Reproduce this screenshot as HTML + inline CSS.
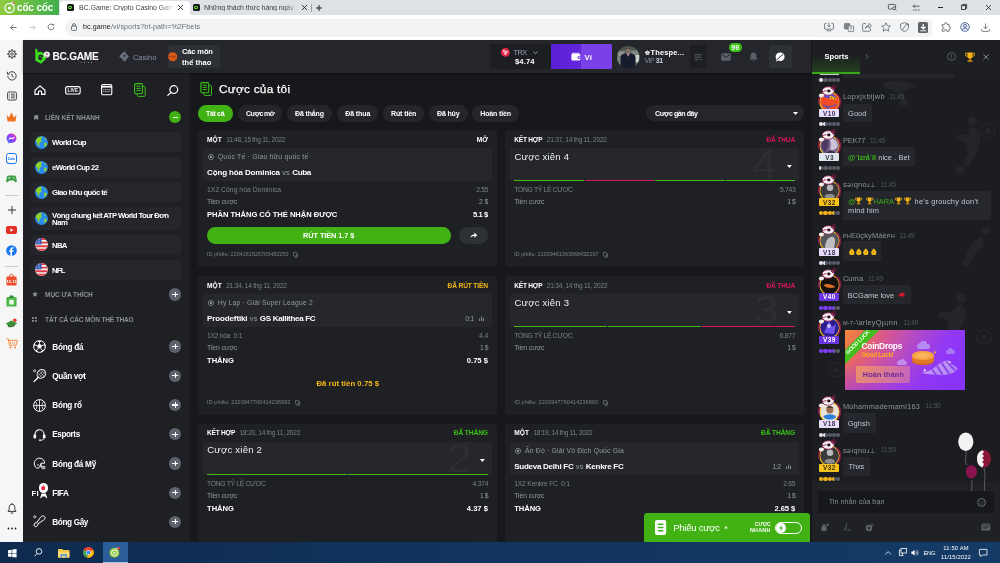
<!DOCTYPE html>
<html lang="vi">
<head>
<meta charset="utf-8">
<title>BC.Game</title>
<style>
*{box-sizing:border-box;margin:0;padding:0}
html,body{width:1000px;height:563px;overflow:hidden;background:#17181b}
body{position:relative;font-family:"Liberation Sans",sans-serif;color:#fff;font-size:8px;line-height:1}
.a{position:absolute}
.t{position:absolute;white-space:pre;line-height:1}
.b{font-weight:bold}
svg{position:absolute;overflow:visible}
/* browser chrome */
#tabbar{left:0;top:0;width:1000px;height:15px;background:#dee1e6}
#toolbar{left:0;top:15px;width:1000px;height:25px;background:#fff}
#ccside{left:0;top:40px;width:23px;height:502px;background:#f6f6f6}
#hdr{left:23px;top:40px;width:788px;height:33.4px;background:#24262b;box-shadow:0 1px 2px rgba(0,0,0,.35);z-index:3}
#sbar{left:23px;top:73px;width:167px;height:469px;background:#1e2024}
#main{left:190px;top:73px;width:622px;height:469px;background:#17181b;overflow:hidden}
#chat{left:812px;top:40px;width:188px;height:502px;background:#1b1d21;overflow:hidden}
#task{left:0;top:542px;width:1000px;height:21px;background:linear-gradient(90deg,#0e2a4e 0%,#11335c 40%,#143b66 100%)}
</style>
</head>
<body>
<div id="all" class="a" style="left:0;top:0;width:1000px;height:563px;will-change:transform">
<div id="tabbar" class="a">
<div class="a" style="left:0;top:0;width:59px;height:15px;background:linear-gradient(90deg,#8ecb3f 0%,#6abf45 45%,#3fae4e 100%)"></div>
<svg style="left:3px;top:1px" width="13" height="13" viewBox="0 0 13 13"><circle cx="6.5" cy="7" r="4.6" fill="none" stroke="#fff" stroke-width="1.2"/><circle cx="6.5" cy="7" r="1.6" fill="#fff"/><path d="M8 2.2 L11 0.8 M9 3.4 L11.8 3" stroke="#fff" stroke-width="1" fill="none"/><circle cx="10.8" cy="1.8" r="1.1" fill="#e9524a"/></svg>
<div class="t b" style="left:17px;top:3px;font-size:10px;color:#fff;letter-spacing:-0.15px">cốc cốc</div>
<div class="a" style="left:60px;top:1px;width:130px;height:14px;background:#fff;border-radius:4px 4px 0 0"></div>
<div class="a" style="left:66.5px;top:4px;width:7px;height:7px;background:#16181c;border-radius:1.5px"></div>
<div class="a" style="left:68.2px;top:5.6px;width:3.6px;height:3.8px;border:1px solid #5ce01d;border-radius:1px"></div>
<div class="t" style="left:79px;top:4.2px;font-size:7px;color:#3c4043;letter-spacing:-0.05px;width:94px;overflow:hidden">BC.Game: Crypto Casino Gam</div>
<div class="a" style="left:160px;top:2px;width:14px;height:12px;background:linear-gradient(90deg,rgba(255,255,255,0),#fff)"></div>
<svg style="left:177.5px;top:5px" width="5" height="5" viewBox="0 0 5 5"><path d="M0 0L5 5M5 0L0 5" stroke="#202124" stroke-width="0.9"/></svg>
<div class="a" style="left:192.5px;top:4px;width:7px;height:7px;background:#16181c;border-radius:1.5px"></div>
<div class="a" style="left:194.2px;top:5.6px;width:3.6px;height:3.8px;border:1px solid #5ce01d;border-radius:1px"></div>
<div class="t" style="left:204px;top:4.2px;font-size:7px;color:#3c4043;letter-spacing:-0.05px;width:94px;overflow:hidden">Những thách thức hàng ngày</div>
<div class="a" style="left:284px;top:2px;width:14px;height:12px;background:linear-gradient(90deg,rgba(222,225,230,0),#dee1e6)"></div>
<svg style="left:302px;top:5px" width="5" height="5" viewBox="0 0 5 5"><path d="M0 0L5 5M5 0L0 5" stroke="#202124" stroke-width="0.9"/></svg>
<div class="a" style="left:311px;top:3.5px;width:1px;height:8px;background:#9aa0a6"></div>
<svg style="left:316px;top:4.5px" width="6" height="6" viewBox="0 0 6 6"><path d="M3 0V6M0 3H6" stroke="#202124" stroke-width="1"/></svg>
<svg style="left:888px;top:3.5px" width="9" height="7" viewBox="0 0 9 7"><rect x="0.4" y="0.4" width="7.2" height="4.6" rx="0.8" fill="none" stroke="#3c4043" stroke-width="0.8"/><circle cx="6" cy="4.2" r="1.4" fill="#dee1e6" stroke="#3c4043" stroke-width="0.7"/><path d="M7 5.2L8.4 6.6" stroke="#3c4043" stroke-width="0.8"/></svg>
<svg style="left:912px;top:3.5px" width="8" height="7" viewBox="0 0 8 7"><path d="M1 2.2H7.5M1 2.2L2.6 0.6M1 2.2L2.6 3.8" stroke="#3c4043" stroke-width="0.8" fill="none"/><path d="M1 6H2.6M3.6 6H5.2M6.2 6H7.6" stroke="#3c4043" stroke-width="0.8"/></svg>
<div class="a" style="left:937.5px;top:6.8px;width:5px;height:1px;background:#202124"></div>
<svg style="left:961px;top:4px" width="6" height="6" viewBox="0 0 6 6"><rect x="0.4" y="1.4" width="4" height="4" fill="#dee1e6" stroke="#202124" stroke-width="0.8"/><path d="M1.6 1.4V0.4H5.6V4.4H4.4" fill="none" stroke="#202124" stroke-width="0.8"/></svg>
<svg style="left:985.5px;top:4.5px" width="5" height="5" viewBox="0 0 5 5"><path d="M0 0L5 5M5 0L0 5" stroke="#202124" stroke-width="0.8"/></svg>
</div>
<div id="toolbar" class="a">
<svg style="left:10px;top:9px" width="7" height="7" viewBox="0 0 7 7"><path d="M6.6 3.5H0.8M3.4 0.7L0.6 3.5L3.4 6.3" stroke="#5f6368" stroke-width="0.9" fill="none"/></svg>
<svg style="left:29px;top:9px" width="7" height="7" viewBox="0 0 7 7"><path d="M0.4 3.5H6.2M3.6 0.7L6.4 3.5L3.6 6.3" stroke="#c4c7cb" stroke-width="0.9" fill="none"/></svg>
<svg style="left:47px;top:8px" width="8" height="8" viewBox="0 0 8 8"><path d="M6.9 4A2.9 2.9 0 1 1 6 1.9" stroke="#5f6368" stroke-width="0.9" fill="none"/><path d="M7.2 0.6V2.6H5.2Z" fill="#5f6368"/></svg>
<div class="a" style="left:65px;top:3.5px;width:867px;height:18px;background:#f1f3f4;border-radius:9px 3px 3px 9px"></div>
<svg style="left:70.5px;top:8px" width="6" height="8" viewBox="0 0 6 8"><rect x="0.5" y="3.2" width="5" height="4.2" rx="0.8" fill="none" stroke="#5f6368" stroke-width="0.9"/><path d="M1.6 3.2V2A1.4 1.4 0 0 1 4.4 2V3.2" fill="none" stroke="#5f6368" stroke-width="0.9"/></svg>
<div class="t" style="left:83px;top:9px;font-size:7.1px;color:#202124;letter-spacing:0.101px;transform:matrix(1,0.0004,0,1,0,0.3);transform-origin:0 0"><span>bc.game</span><span style="color:#6a6f75">/vi/sports?bt-path=%2Fbets</span></div>
<svg style="left:824px;top:7px" width="10" height="10" viewBox="0 0 10 10"><path d="M2.6 1.4H1.2A0.6 0.6 0 0 0 0.6 2V6.6A0.6 0.6 0 0 0 1.2 7.2H8.8A0.6 0.6 0 0 0 9.4 6.6V2A0.6 0.6 0 0 0 8.8 1.4H7.4" fill="none" stroke="#5f6368" stroke-width="0.8"/><path d="M5 0.4V5M3.4 3.4L5 5L6.6 3.4M2.6 8.8H7.4" fill="none" stroke="#5f6368" stroke-width="0.8"/></svg>
<svg style="left:843.5px;top:7.5px" width="10" height="9" viewBox="0 0 10 9"><rect x="0.4" y="0.4" width="5.4" height="5.6" rx="0.6" fill="#80868b" stroke="#5f6368" stroke-width="0.6"/><rect x="4.2" y="3" width="5.4" height="5.6" rx="0.6" fill="#f1f3f4" stroke="#5f6368" stroke-width="0.7"/><path d="M5.6 4.8H8.2M6.9 4.2V4.8M6 7.4C7 6.8 7.6 5.8 7.8 4.8" stroke="#5f6368" stroke-width="0.5" fill="none"/></svg>
<svg style="left:862px;top:7px" width="10" height="10" viewBox="0 0 10 10"><path d="M4 1.6H1.6A1 1 0 0 0 0.6 2.6V8.2A1 1 0 0 0 1.6 9.2H7.6A1 1 0 0 0 8.6 8.2V6.4" fill="none" stroke="#5f6368" stroke-width="0.8"/><path d="M3.4 6.6C3.6 4.4 5 3.2 7 3.2V1.4L9.6 3.8L7 6.2V4.6C5.4 4.6 4.2 5.2 3.4 6.6Z" fill="none" stroke="#5f6368" stroke-width="0.8" stroke-linejoin="round"/></svg>
<svg style="left:880.5px;top:7px" width="10" height="10" viewBox="0 0 10 10"><path d="M5 0.8L6.3 3.6L9.4 4L7.1 6.1L7.7 9.2L5 7.7L2.3 9.2L2.9 6.1L0.6 4L3.7 3.6Z" fill="none" stroke="#5f6368" stroke-width="0.8" stroke-linejoin="round"/></svg>
<svg style="left:899.5px;top:7px" width="9" height="10" viewBox="0 0 9 10"><path d="M4.5 0.6L8.4 2V5C8.4 7.2 6.8 8.8 4.5 9.5C2.2 8.8 0.6 7.2 0.6 5V2Z" fill="none" stroke="#5f6368" stroke-width="0.8" stroke-linejoin="round"/><path d="M6.8 1.6L2.2 8.2" stroke="#5f6368" stroke-width="0.8"/><path d="M4.5 0.6L8.4 2V5L6.8 1.6Z" fill="#5f6368"/></svg>
<div class="a" style="left:917.5px;top:7px;width:10.5px;height:10.5px;background:#5f6368;border-radius:1.5px"></div>
<svg style="left:919.5px;top:8.5px" width="6.5" height="7.5" viewBox="0 0 6.5 7.5"><path d="M3.25 0V4.6M1 2.8L3.25 5L5.5 2.8" stroke="#fff" stroke-width="1.2" fill="none"/><path d="M0.2 6.8H6.3" stroke="#fff" stroke-width="0.9"/></svg>
<svg style="left:940.5px;top:7px" width="10" height="10" viewBox="0 0 10 10"><path d="M3.6 1.8A1.2 1.2 0 0 1 6 1.8V2.4H8V4.6H8.4A1.2 1.2 0 0 1 8.4 7H8V9.2H5.6V8.6A1.1 1.1 0 0 0 3.4 8.6V9.2H1.2V6.8H1.8A1.1 1.1 0 0 0 1.8 4.6H1.2V2.4H3.6Z" fill="none" stroke="#5f6368" stroke-width="0.85" stroke-linejoin="round"/></svg>
<svg style="left:960px;top:7px" width="10" height="10" viewBox="0 0 10 10"><circle cx="5" cy="5" r="4.4" fill="#e3e8f5" stroke="#4a5a8c" stroke-width="0.8"/><circle cx="5" cy="3.9" r="1.5" fill="none" stroke="#4a5a8c" stroke-width="0.8"/><path d="M2.2 8.2C2.6 6.8 3.6 6.3 5 6.3S7.4 6.8 7.8 8.2" fill="none" stroke="#4a5a8c" stroke-width="0.8"/></svg>
<svg style="left:980.5px;top:7.5px" width="9" height="9" viewBox="0 0 9 9"><path d="M4.5 0.4V5.6M2.4 3.6L4.5 5.8L6.6 3.6" stroke="#5f6368" stroke-width="0.8" fill="none"/><path d="M0.6 6V7.6A0.8 0.8 0 0 0 1.4 8.4H7.6A0.8 0.8 0 0 0 8.4 7.6V6" stroke="#5f6368" stroke-width="0.8" fill="none"/></svg>
</div>
<div id="ccside" class="a">
<svg style="left:6.5px;top:9px" width="10" height="10" viewBox="0 0 10 10"><circle cx="5" cy="5" r="3.3" fill="none" stroke="#333" stroke-width="0.9"/><circle cx="5" cy="5" r="1.3" fill="none" stroke="#333" stroke-width="0.8"/><path d="M5 0.3V1.7M5 8.3V9.7M0.3 5H1.7M8.3 5H9.7M1.7 1.7L2.7 2.7M7.3 7.3L8.3 8.3M1.7 8.3L2.7 7.3M7.3 2.7L8.3 1.7" stroke="#333" stroke-width="1.3"/></svg>
<svg style="left:6.5px;top:30.5px" width="10" height="10" viewBox="0 0 10 10"><path d="M1.6 2.4A4.2 4.2 0 1 1 0.8 5" fill="none" stroke="#333" stroke-width="0.9"/><path d="M0.4 0.8V3.2H2.8" fill="none" stroke="#333" stroke-width="0.9"/><path d="M5 2.6V5.2L6.8 6.2" fill="none" stroke="#333" stroke-width="0.9"/></svg>
<svg style="left:6.5px;top:51.3px" width="10" height="10" viewBox="0 0 10 10"><rect x="0.6" y="1" width="8.8" height="8" rx="1.2" fill="none" stroke="#333" stroke-width="0.9"/><path d="M2.2 3.2H3M4 3.2H7.8M2.2 5H3M4 5H7.8M2.2 6.8H3M4 6.8H7.8" stroke="#333" stroke-width="0.9"/></svg>
<svg style="left:6px;top:72.3px" width="11" height="10" viewBox="0 0 11 10"><path d="M0.6 3L3 5.4L5.5 0.6L8 5.4L10.4 3L9.4 9.4H1.6Z" fill="#f26f1c"/></svg>
<svg style="left:6px;top:92.80000000000001px" width="11" height="11" viewBox="0 0 11 11"><defs><linearGradient id="msg" x1="0" y1="1" x2="1" y2="0"><stop offset="0" stop-color="#2c7cf6"/><stop offset="0.6" stop-color="#a334fa"/><stop offset="1" stop-color="#ff5c87"/></linearGradient></defs><path d="M5.5 0.5C2.7 0.5 0.5 2.6 0.5 5.3C0.5 6.8 1.2 8.1 2.3 9V10.6L3.9 9.7C4.4 9.9 4.9 10 5.5 10C8.3 10 10.5 7.9 10.5 5.3S8.3 0.5 5.5 0.5Z" fill="url(#msg)"/><path d="M2.4 6.5L4.4 4.1L5.8 5.3L7.4 4.1L8.6 4.2L6.6 6.6L5.2 5.4L3.6 6.6Z" fill="#fff"/></svg>
<svg style="left:6px;top:113.30000000000001px" width="11" height="11" viewBox="0 0 11 11"><rect x="0.5" y="0.5" width="10" height="10" rx="2.2" fill="#fff" stroke="#1a73e8" stroke-width="1"/><path d="M1 8.2C2 9.6 3 10.2 4.5 10.4H1.6Z" fill="#1a73e8"/><text x="5.5" y="6.6" font-size="3.6" font-weight="bold" font-family="Liberation Sans,sans-serif" fill="#1a73e8" text-anchor="middle">Zalo</text></svg>
<svg style="left:6px;top:135.2px" width="11" height="8" viewBox="0 0 11 8"><path d="M2.6 0.6H8.4C9.4 0.6 10 1.4 10.2 2.6L10.8 6C11 7.4 9.6 7.8 8.8 6.8L7.8 5.4H3.2L2.2 6.8C1.4 7.8 0 7.4 0.2 6L0.8 2.6C1 1.4 1.6 0.6 2.6 0.6Z" fill="#3c9d47"/><path d="M2.4 2.9H4.2M3.3 2V3.8" stroke="#f4f4f4" stroke-width="0.7"/><circle cx="7.4" cy="2.4" r="0.5" fill="#f4f4f4"/><circle cx="8.4" cy="3.4" r="0.5" fill="#f4f4f4"/></svg>
<div class="a" style="left:5px;top:155px;width:13px;height:1px;background:#c9c9c9"></div>
<svg style="left:7.5px;top:165.6px" width="8" height="8" viewBox="0 0 8 8"><path d="M4 0V8M0 4H8" stroke="#333" stroke-width="1"/></svg>
<svg style="left:6px;top:186px" width="11" height="8" viewBox="0 0 11 8"><rect x="0" y="0" width="11" height="8" rx="2" fill="#e52d27"/><path d="M4.4 2.2L7.4 4L4.4 5.8Z" fill="#fff"/></svg>
<svg style="left:6px;top:205.3px" width="11" height="11" viewBox="0 0 11 11"><circle cx="5.5" cy="5.5" r="5.3" fill="#1877f2"/><path d="M6 10.7V6.8H7.3L7.5 5.3H6V4.4C6 3.9 6.2 3.6 6.8 3.6H7.6V2.3C7.4 2.3 7 2.2 6.4 2.2C5.2 2.2 4.4 2.9 4.4 4.2V5.3H3.2V6.8H4.4V10.7Z" fill="#fff"/></svg>
<div class="a" style="left:5px;top:226px;width:13px;height:1px;background:#c9c9c9"></div>
<svg style="left:6px;top:234px" width="11" height="12" viewBox="0 0 11 12"><rect x="0.4" y="2.6" width="10.2" height="9" rx="1" fill="#ee4d2d"/><path d="M3.4 3V2.4A2.1 2.1 0 0 1 7.6 2.4V3" fill="none" stroke="#ee4d2d" stroke-width="0.9"/><text x="5.5" y="9.3" font-size="4" font-weight="bold" font-family="Liberation Sans,sans-serif" fill="#fff" text-anchor="middle">15.11</text></svg>
<svg style="left:6px;top:255px" width="11" height="12" viewBox="0 0 11 12"><rect x="0.4" y="2" width="10.2" height="9.6" rx="1.2" fill="#4cb648"/><rect x="3.4" y="0.6" width="4.2" height="2.4" rx="0.8" fill="#2f8f35"/><rect x="3.2" y="4.8" width="4.6" height="4.8" rx="0.5" fill="#e9f8e6"/></svg>
<svg style="left:5px;top:277.5px" width="13" height="10" viewBox="0 0 13 10"><path d="M0.6 5.8L6.2 2.4L12.4 5.2L7 8.8Z" fill="#3d8f3a"/><path d="M2.6 6.6V8.2C4 9.6 8.4 9.6 10 7.6V6.2L7 8.4Z" fill="#2c6d2b"/><circle cx="9.8" cy="2.2" r="1.8" fill="#e23a2e"/></svg>
<svg style="left:5.5px;top:297.5px" width="12" height="11" viewBox="0 0 12 11"><path d="M0.4 0.8H2.2L3 2.4H11.4L10.2 7.2H3.6L2.2 0.8" fill="none" stroke="#f58232" stroke-width="0.9"/><path d="M4.6 3.6V6M6.6 3.6V6M8.6 3.6V6" stroke="#f58232" stroke-width="0.7"/><circle cx="4.4" cy="9.4" r="1" fill="#f58232"/><circle cx="9" cy="9.4" r="1" fill="#f58232"/></svg>
<svg style="left:6.5px;top:463.1px" width="10" height="11" viewBox="0 0 10 11"><path d="M5 1.2C3.2 1.2 2.2 2.6 2.2 4.4V6.8L1 8.4H9L7.8 6.8V4.4C7.8 2.6 6.8 1.2 5 1.2Z" fill="none" stroke="#222" stroke-width="0.9" stroke-linejoin="round"/><path d="M4 9.4A1 1 0 0 0 6 9.4" fill="none" stroke="#222" stroke-width="0.9"/><path d="M5 0.2V1.2" stroke="#222" stroke-width="0.9"/></svg>
<svg style="left:6.5px;top:487.20000000000005px" width="10" height="3" viewBox="0 0 10 3"><circle cx="1.5" cy="1.5" r="0.9" fill="#222"/><circle cx="5" cy="1.5" r="0.9" fill="#222"/><circle cx="8.5" cy="1.5" r="0.9" fill="#222"/></svg>
</div>
<div id="hdr" class="a">
<svg style="left:11.6px;top:8.2px" width="16" height="17" viewBox="0 0 16 17"><path d="M0.3 0.4L2.6 1.6V4.6C3.6 3.8 5 3.5 6.4 3.9L10.6 6.4V11.6L6 15.8L0.3 12.4Z" fill="#3ddc1f"/><path d="M3.4 7.4L5.8 6.4L8 7.6V10.4L5.6 12.4L3.4 11.2Z" fill="#24262b"/><path d="M4.6 8.6H6" stroke="#3ddc1f" stroke-width="0.8"/><path d="M6.6 9.4L9.2 8.2L10.8 9.4L9.4 11.6L7.2 11Z" fill="#3ddc1f"/><circle cx="11.8" cy="6.6" r="3.1" fill="#f4f1f1"/><path d="M10.6 5.2L12 4.6L13.2 5.6L12.8 7L11.2 7.2Z" fill="#b9878e"/><path d="M10 8.4L11.6 9.2L13.4 8.6" stroke="#7d4650" stroke-width="0.5" fill="none"/></svg>
<div class="t" style="left:29px;top:12px;font-size:10.20px;color:#fff;transform:matrix(1,0.0004,0,1,0.40,0.31);transform-origin:0 0;letter-spacing:-0.272px;font-weight:bold;">BC.GAME</div>
<div class="a" style="left:54.7px;top:20.5px;width:1.4px;height:1.4px;border-radius:50%;background:#c4163a"></div>
<div class="a" style="left:58.3px;top:22.1px;width:1.0px;height:1.0px;border-radius:50%;background:#9d9d9d"></div>
<div class="a" style="left:61.3px;top:22.1px;width:1.0px;height:1.0px;border-radius:50%;background:#c9c9c9"></div>
<div class="a" style="left:64.5px;top:22.1px;width:1.0px;height:1.0px;border-radius:50%;background:#9d9d9d"></div>
<div class="a" style="left:67.5px;top:22.1px;width:1.0px;height:1.0px;border-radius:50%;background:#d8d8d8"></div>
<div class="a" style="left:71.9px;top:20.5px;width:1.4px;height:1.4px;border-radius:50%;background:#c4163a"></div>
<svg style="left:96.0px;top:11.4px" width="10" height="11" viewBox="0 0 10 11"><path d="M5.2 0.4L9.4 5.6L5.6 10.6L0.6 5.2Z" fill="#6b7280" stroke="#6b7280" stroke-width="0.6" stroke-linejoin="round"/><circle cx="5.4" cy="4.8" r="1.1" fill="#24262b"/><path d="M3.4 7.2L5.8 8.4" stroke="#4d525c" stroke-width="0.6"/></svg>
<div class="t" style="left:109px;top:13px;font-size:7.60px;color:#8690a3;transform:matrix(1,0.0004,0,1,0.90,0.51);transform-origin:0 0;letter-spacing:-0.022px;">Casino</div>
<div class="a" style="left:145.2px;top:5.2px;width:52px;height:23px;background:#2d3035;border-radius:1.5px"></div>
<svg style="left:145.1px;top:12.1px" width="9.4" height="9.4" viewBox="0 0 10 10"><circle cx="5" cy="5" r="4.8" fill="#e9631a"/><path d="M5 0.2V9.8M0.2 5H9.8M1.6 1.6C3.4 3.4 3.4 6.6 1.6 8.4M8.4 1.6C6.6 3.4 6.6 6.6 8.4 8.4" stroke="#8b3208" stroke-width="0.55" fill="none"/></svg>
<div class="t" style="left:159px;top:8px;font-size:7.50px;color:#fff;transform:matrix(1,0.0004,0,1,0.00,0.18);transform-origin:0 0;letter-spacing:-0.125px;font-weight:bold;">Các môn</div>
<div class="t" style="left:159px;top:19px;font-size:7.50px;color:#fff;transform:matrix(1,0.0004,0,1,0.00,0.08);transform-origin:0 0;letter-spacing:0.029px;font-weight:bold;">thể thao</div>
<div class="a" style="left:467.0px;top:4.2px;width:61px;height:25px;background:#1c1e22;border-radius:1.5px 0 0 1.5px"></div>
<svg style="left:477.5px;top:8.2px" width="8.8" height="8.8" viewBox="0 0 10 10"><circle cx="5" cy="5" r="5" fill="#e5284a"/><path d="M2.4 2.8L7.4 4L5 7.8Z" fill="none" stroke="#fff" stroke-width="0.8" stroke-linejoin="round"/><path d="M2.4 2.8L5.4 4.8L5 7.8M5.4 4.8L7.4 4" fill="none" stroke="#fff" stroke-width="0.6"/></svg>
<div class="t" style="left:490px;top:9px;font-size:7.40px;color:#98a2b6;transform:matrix(1,0.0004,0,1,0.40,0.35);transform-origin:0 0;letter-spacing:-0.451px;">TRX</div>
<svg style="left:510.0px;top:11.2px" width="5" height="3.4" viewBox="0 0 5 3.4"><path d="M0.4 0.5L2.5 2.7L4.6 0.5" stroke="#98a2b6" stroke-width="0.9" fill="none"/></svg>
<div class="t" style="left:492px;top:18px;font-size:7.60px;color:#fff;transform:matrix(1,0.0004,0,1,0.00,0.41);transform-origin:0 0;letter-spacing:0.144px;font-weight:bold;">$4.74</div>
<div class="a" style="left:527.8px;top:4.2px;width:61px;height:25px;background:linear-gradient(90deg,#5a1fd6 0%,#6426dc 49%,#7a41e8 50%,#7b40ea 100%);border-radius:0 1.5px 1.5px 0"></div>
<svg style="left:547.8px;top:12.2px" width="10" height="9" viewBox="0 0 10 9"><path d="M1.4 0.8H7.6C8.2 0.8 8.6 1.2 8.6 1.8V2.4H1.4A0.8 0.8 0 0 1 1.4 0.8Z" fill="#d9c8ff"/><rect x="0.4" y="2" width="9" height="6.6" rx="1.3" fill="#fff"/><circle cx="8.2" cy="5.3" r="1.6" fill="#6e33e0"/><circle cx="8.2" cy="5.3" r="0.8" fill="#fff"/></svg>
<div class="t" style="left:561px;top:13px;font-size:7.80px;color:#fff;transform:matrix(1,0.0004,0,1,0.40,0.58);transform-origin:0 0;letter-spacing:0.039px;font-weight:bold;">Ví</div>
<svg style="left:594.1px;top:5.6px" width="22.6" height="22.2" viewBox="0 0 22.6 22.2"><defs><clipPath id="avc"><ellipse cx="11.3" cy="11.1" rx="11.3" ry="11.1"/></clipPath><filter id="avb" x="-10%" y="-10%" width="120%" height="120%"><feGaussianBlur stdDeviation="0.45"/></filter></defs><g clip-path="url(#avc)"><g filter="url(#avb)"><rect width="22.6" height="22.2" fill="#5f6a60"/><rect x="0" y="0" width="22.6" height="4.6" fill="#4c554e"/><rect x="1" y="5.4" width="6.4" height="5" fill="#8a9288"/><rect x="14.4" y="4.6" width="7" height="4.6" fill="#7f8a80"/><rect x="18.4" y="9" width="4.2" height="7.4" fill="#c9d0cc"/><rect x="0" y="11" width="3.6" height="8" fill="#7c857e"/><path d="M3.6 22.2V11.4C3.6 8.6 6.6 7.6 8.6 7.2H13.6C15.8 7.6 18.4 8.8 18.4 11.6V22.2Z" fill="#191f2d"/><path d="M9.4 7.2L11.2 10.6L13 7.2Z" fill="#d9dce0"/><path d="M10.8 8L11.2 11.6L11.8 8Z" fill="#a3303a"/><ellipse cx="11.1" cy="3.9" rx="2.2" ry="2.8" fill="#86706a"/><path d="M8.9 3.2C9 0.9 13.2 0.9 13.3 3.2C12.4 2.2 9.8 2.2 8.9 3.2Z" fill="#3a2d26"/><rect x="10" y="6" width="2.2" height="1.6" fill="#7b665f"/></g></g></svg>
<div class="t" style="left:621px;top:9px;font-size:7.40px;color:#fff;transform:matrix(1,0.0004,0,1,0.40,0.15);transform-origin:0 0;letter-spacing:0.190px;font-weight:bold;"><span style="font-family:'DejaVu Sans',sans-serif;font-size:6.6px">♚</span>Thespe...</div>
<div class="t" style="left:621px;top:17px;font-size:7.00px;color:#7f8796;transform:matrix(1,0.0004,0,1,0.40,0.21);transform-origin:0 0;letter-spacing:-0.448px;">VIP <span style="color:#c9cfdb;font-weight:bold">31</span></div>
<div class="a" style="left:667.0px;top:5.4px;width:16px;height:22.6px;background:#1c1e22;border-radius:1.5px"></div>
<svg style="left:671.0px;top:13.6px" width="8" height="7" viewBox="0 0 8 7"><path d="M0.4 0.8H7.6M0.4 3.2H7.6M0.4 5.6H4.6" stroke="#5d626c" stroke-width="1"/><path d="M6 5.6H7.6" stroke="#5d626c" stroke-width="1"/></svg>
<svg style="left:698.0px;top:13.0px" width="10" height="8" viewBox="0 0 10 8"><rect x="0.2" y="0.2" width="9.6" height="7.6" rx="1.2" fill="#5a5f69"/><path d="M0.8 1.4L5 4.4L9.2 1.4" stroke="#24262b" stroke-width="0.9" fill="none"/></svg>
<div class="a" style="left:705.6px;top:2.9px;width:13.6px;height:9.4px;border-radius:4.7px;background:#3bc117"></div>
<div class="t" style="left:708px;top:4px;font-size:7.00px;color:#fff;transform:matrix(1,0.0004,0,1,0.30,0.21);transform-origin:0 0;letter-spacing:0.107px;font-weight:bold;">99</div>
<svg style="left:725.6px;top:12.0px" width="9" height="10" viewBox="0 0 9 10"><path d="M4.5 0.4C2.6 0.4 1.5 1.8 1.5 3.6V6L0.4 7.6H8.6L7.5 6V3.6C7.5 1.8 6.4 0.4 4.5 0.4Z" fill="#5a5f69"/><path d="M3.5 8.4A1 1 0 0 0 5.5 8.4Z" fill="#5a5f69"/></svg>
<div class="a" style="left:745.6px;top:5.4px;width:23.4px;height:22.6px;background:#2d3035;border-radius:1.5px"></div>
<svg style="left:752.2px;top:11.8px" width="10" height="10" viewBox="0 0 10 10"><path d="M5.2 0.6C2.6 0.6 0.6 2.4 0.6 4.8C0.6 5.8 1 6.8 1.6 7.4L1 9.6L3.4 8.6C4 8.8 4.6 9 5.2 9C7.8 9 9.6 7.2 9.6 4.8S7.8 0.6 5.2 0.6Z" fill="#fff"/><path d="M2 7.6L8.2 2" stroke="#2d3035" stroke-width="1"/></svg>
</div>
<div id="sbar" class="a">
<svg style="left:10.50px;top:12.20px" width="12" height="10.2" viewBox="0 0 12 10.2"><path d="M1 5.2L6 0.9L11 5.2V9.4H7.6V7.4A1.6 1.6 0 0 0 4.4 7.4V9.4H1Z" fill="none" stroke="#fff" stroke-width="1.2" stroke-linejoin="round"/></svg>
<svg style="left:42.00px;top:13.00px" width="15.8" height="8.6" viewBox="0 0 15.8 8.6"><rect x="0.6" y="0.6" width="14.6" height="7.4" rx="2" fill="none" stroke="#fff" stroke-width="1.1"/><text x="7.9" y="6.2" font-size="4.6" font-weight="bold" font-family="Liberation Sans,sans-serif" fill="#fff" text-anchor="middle" letter-spacing="0.1">LIVE</text></svg>
<svg style="left:77.60px;top:11.40px" width="11.4" height="11.4" viewBox="0 0 11.4 11.4"><rect x="0.6" y="0.6" width="10.2" height="10.2" rx="1.4" fill="none" stroke="#fff" stroke-width="1.1"/><path d="M0.6 2H10.8V3.6H0.6Z" fill="#fff"/><path d="M2.4 5.6H3.4M4.4 5.6H5.4M6.4 5.6H7.4M8.4 5.6H9.2M2.4 7.6H3.4M4.4 7.6H5.4M6.4 7.6H7.4M8.4 7.6H9.2" stroke="#fff" stroke-width="0.9"/></svg>
<svg style="left:110.80px;top:10.20px" width="11.8" height="14" viewBox="0 0 11.8 14"><path d="M8.8 3.6H10.2A1 1 0 0 1 11.2 4.6V12.4A1 1 0 0 1 10.2 13.4H4.4A1 1 0 0 1 3.4 12.4V11" fill="none" stroke="#3bc117" stroke-width="1"/><rect x="0.6" y="0.6" width="7.8" height="10.2" rx="1.2" fill="none" stroke="#3bc117" stroke-width="1.1"/><path d="M2.4 3.2H6.6M2.4 5.4H6.6M2.4 7.6H6.6" stroke="#3bc117" stroke-width="1"/></svg>
<svg style="left:144.00px;top:11.90px" width="11.6" height="11" viewBox="0 0 11.6 11"><circle cx="6.8" cy="4.6" r="3.9" fill="none" stroke="#fff" stroke-width="1.2"/><path d="M4 7.4L0.8 10.4" stroke="#fff" stroke-width="1.3" stroke-linecap="round"/></svg>
<svg style="left:10.50px;top:42.00px" width="4.4" height="5.2" viewBox="0 0 4.4 5.2"><path d="M0.2 0.2H4.2V5L2.2 3.8L0.2 5Z" fill="#8d9096"/></svg>
<div class="t" style="left:21px;top:41px;font-size:6.50px;color:#8d9096;transform:matrix(1,0.0004,0,1,0.90,0.84);transform-origin:0 0;letter-spacing:-0.006px;font-weight:bold;">LIÊN KẾT NHANH</div>
<div class="a" style="left:145.7px;top:37.9px;width:12.6px;height:12.6px;border-radius:50%;background:#41b114"></div>
<div class="a" style="left:149.5px;top:43.6px;width:5px;height:1.2px;background:#e8ffe0"></div>
<div class="a" style="left:8.2px;top:58.8px;width:150px;height:20.5px;background:#24262b;border-radius:2px"></div>
<svg style="left:12.10px;top:62.55px" width="13" height="13" viewBox="0 0 13 13"><circle cx="6.5" cy="6.5" r="6.4" fill="#2b8cf0"/><path d="M2.6 2C3.8 0.9 5.6 0.5 6.8 1C7.2 1.9 6.2 2.4 6 3.2C5.8 4.1 6.8 4.5 6.4 5.4C6 6.2 5 6 4.5 6.8C4.1 7.5 4.8 8.4 4.4 9.4C4 10.1 3.4 10 3 9.4C2.5 8.5 2.9 7.7 2.4 6.9C1.9 6.1 1 6.1 0.8 5.1C0.6 3.8 1.6 2.8 2.6 2Z" fill="#8fd321"/><path d="M9.6 6.6C10.5 6.4 11.4 7 11.8 7.9C11.6 9.1 10.8 10.3 9.8 11C9.1 10.5 9.1 9.7 9.2 9C9.4 8.1 8.9 7 9.6 6.6Z" fill="#8fd321"/><path d="M9.6 1.6C10.5 2 11.3 2.8 11.8 3.8C11.1 4 10.5 3.6 10.2 3.1C9.9 2.6 9.4 2.2 9.6 1.6Z" fill="#8fd321"/></svg>
<div class="t" style="left:29px;top:65px;font-size:7.80px;color:#fff;transform:matrix(1,0.0004,0,1,0.00,0.93);transform-origin:0 0;letter-spacing:-0.581px;font-weight:bold;">World Cup</div>
<div class="a" style="left:8.2px;top:84.0px;width:150px;height:20.5px;background:#24262b;border-radius:2px"></div>
<svg style="left:12.10px;top:87.75px" width="13" height="13" viewBox="0 0 13 13"><circle cx="6.5" cy="6.5" r="6.4" fill="#2b8cf0"/><path d="M2.6 2C3.8 0.9 5.6 0.5 6.8 1C7.2 1.9 6.2 2.4 6 3.2C5.8 4.1 6.8 4.5 6.4 5.4C6 6.2 5 6 4.5 6.8C4.1 7.5 4.8 8.4 4.4 9.4C4 10.1 3.4 10 3 9.4C2.5 8.5 2.9 7.7 2.4 6.9C1.9 6.1 1 6.1 0.8 5.1C0.6 3.8 1.6 2.8 2.6 2Z" fill="#8fd321"/><path d="M9.6 6.6C10.5 6.4 11.4 7 11.8 7.9C11.6 9.1 10.8 10.3 9.8 11C9.1 10.5 9.1 9.7 9.2 9C9.4 8.1 8.9 7 9.6 6.6Z" fill="#8fd321"/><path d="M9.6 1.6C10.5 2 11.3 2.8 11.8 3.8C11.1 4 10.5 3.6 10.2 3.1C9.9 2.6 9.4 2.2 9.6 1.6Z" fill="#8fd321"/></svg>
<div class="t" style="left:29px;top:91px;font-size:7.80px;color:#fff;transform:matrix(1,0.0004,0,1,0.00,0.13);transform-origin:0 0;letter-spacing:-0.609px;font-weight:bold;">eWorld Cup 22</div>
<div class="a" style="left:8.2px;top:108.8px;width:150px;height:20.5px;background:#24262b;border-radius:2px"></div>
<svg style="left:12.10px;top:112.55px" width="13" height="13" viewBox="0 0 13 13"><circle cx="6.5" cy="6.5" r="6.4" fill="#2b8cf0"/><path d="M2.6 2C3.8 0.9 5.6 0.5 6.8 1C7.2 1.9 6.2 2.4 6 3.2C5.8 4.1 6.8 4.5 6.4 5.4C6 6.2 5 6 4.5 6.8C4.1 7.5 4.8 8.4 4.4 9.4C4 10.1 3.4 10 3 9.4C2.5 8.5 2.9 7.7 2.4 6.9C1.9 6.1 1 6.1 0.8 5.1C0.6 3.8 1.6 2.8 2.6 2Z" fill="#8fd321"/><path d="M9.6 6.6C10.5 6.4 11.4 7 11.8 7.9C11.6 9.1 10.8 10.3 9.8 11C9.1 10.5 9.1 9.7 9.2 9C9.4 8.1 8.9 7 9.6 6.6Z" fill="#8fd321"/><path d="M9.6 1.6C10.5 2 11.3 2.8 11.8 3.8C11.1 4 10.5 3.6 10.2 3.1C9.9 2.6 9.4 2.2 9.6 1.6Z" fill="#8fd321"/></svg>
<div class="t" style="left:29px;top:115px;font-size:7.80px;color:#fff;transform:matrix(1,0.0004,0,1,0.00,0.93);transform-origin:0 0;letter-spacing:-0.598px;font-weight:bold;">Giao hữu quốc tế</div>
<div class="a" style="left:8.2px;top:133.9px;width:150px;height:23.2px;background:#24262b;border-radius:2px"></div>
<svg style="left:12.10px;top:139.00px" width="13" height="13" viewBox="0 0 13 13"><circle cx="6.5" cy="6.5" r="6.4" fill="#2b8cf0"/><path d="M2.6 2C3.8 0.9 5.6 0.5 6.8 1C7.2 1.9 6.2 2.4 6 3.2C5.8 4.1 6.8 4.5 6.4 5.4C6 6.2 5 6 4.5 6.8C4.1 7.5 4.8 8.4 4.4 9.4C4 10.1 3.4 10 3 9.4C2.5 8.5 2.9 7.7 2.4 6.9C1.9 6.1 1 6.1 0.8 5.1C0.6 3.8 1.6 2.8 2.6 2Z" fill="#8fd321"/><path d="M9.6 6.6C10.5 6.4 11.4 7 11.8 7.9C11.6 9.1 10.8 10.3 9.8 11C9.1 10.5 9.1 9.7 9.2 9C9.4 8.1 8.9 7 9.6 6.6Z" fill="#8fd321"/><path d="M9.6 1.6C10.5 2 11.3 2.8 11.8 3.8C11.1 4 10.5 3.6 10.2 3.1C9.9 2.6 9.4 2.2 9.6 1.6Z" fill="#8fd321"/></svg>
<div class="a" style="left:8.2px;top:161.6px;width:150px;height:20.5px;background:#24262b;border-radius:2px"></div>
<svg style="left:12.10px;top:165.35px" width="13" height="13" viewBox="0 0 13 13"><clipPath id="fc4"><circle cx="6.5" cy="6.5" r="6.4"/></clipPath><g clip-path="url(#fc4)"><rect width="13" height="13" fill="#f5f5f5"/><path d="M0 1H13M0 4.6H13M0 8.2H13M0 11.8H13" stroke="#e33b44" stroke-width="1.9"/><rect width="6.5" height="6.4" fill="#2f5bb7"/><path d="M1.4 1.6H5M1.4 3.2H5M1.4 4.8H5" stroke="#dfe6f5" stroke-width="0.6" stroke-dasharray="0.7 0.7"/></g></svg>
<div class="t" style="left:29px;top:168px;font-size:7.80px;color:#fff;transform:matrix(1,0.0004,0,1,0.00,0.73);transform-origin:0 0;letter-spacing:-0.731px;font-weight:bold;">NBA</div>
<div class="a" style="left:8.2px;top:186.5px;width:150px;height:20.5px;background:#24262b;border-radius:2px"></div>
<svg style="left:12.10px;top:190.25px" width="13" height="13" viewBox="0 0 13 13"><clipPath id="fc5"><circle cx="6.5" cy="6.5" r="6.4"/></clipPath><g clip-path="url(#fc5)"><rect width="13" height="13" fill="#f5f5f5"/><path d="M0 1H13M0 4.6H13M0 8.2H13M0 11.8H13" stroke="#e33b44" stroke-width="1.9"/><rect width="6.5" height="6.4" fill="#2f5bb7"/><path d="M1.4 1.6H5M1.4 3.2H5M1.4 4.8H5" stroke="#dfe6f5" stroke-width="0.6" stroke-dasharray="0.7 0.7"/></g></svg>
<div class="t" style="left:29px;top:193px;font-size:7.80px;color:#fff;transform:matrix(1,0.0004,0,1,0.00,0.63);transform-origin:0 0;letter-spacing:-0.789px;font-weight:bold;">NFL</div>
<div class="t" style="left:29px;top:138px;font-size:7.80px;color:#fff;transform:matrix(1,0.0004,0,1,0.00,0.68);transform-origin:0 0;letter-spacing:-0.604px;font-weight:bold;">Vòng chung kết ATP World Tour Đơn</div>
<div class="t" style="left:29px;top:145px;font-size:7.80px;color:#fff;transform:matrix(1,0.0004,0,1,0.00,0.98);transform-origin:0 0;letter-spacing:-0.466px;font-weight:bold;">Nam</div>
<svg style="left:9.20px;top:218.40px" width="6" height="6" viewBox="0 0 10 10"><path d="M5 0.4L6.4 3.6L9.8 3.9L7.2 6.2L8 9.6L5 7.8L2 9.6L2.8 6.2L0.2 3.9L3.6 3.6Z" fill="#8d9096"/></svg>
<div class="t" style="left:22px;top:219px;font-size:6.50px;color:#8d9096;transform:matrix(1,0.0004,0,1,0.10,0.04);transform-origin:0 0;letter-spacing:-0.043px;font-weight:bold;">MỤC ƯA THÍCH</div>
<div class="a" style="left:145.9px;top:215.3px;width:12.4px;height:12.4px;border-radius:50%;background:#5d626c"></div><div class="a" style="left:149.4px;top:220.9px;width:5.4px;height:1.2px;background:#fff"></div><div class="a" style="left:151.5px;top:218.8px;width:1.2px;height:5.4px;background:#fff"></div>
<svg style="left:9.40px;top:244.20px" width="4.8" height="4.8" viewBox="0 0 4.8 4.8"><rect x="0" y="0" width="1.9" height="1.9" rx="0.4" fill="#8d9096"/><rect x="2.9" y="0" width="1.9" height="1.9" rx="0.4" fill="#8d9096"/><rect x="0" y="2.9" width="1.9" height="1.9" rx="0.4" fill="#8d9096"/><rect x="2.9" y="2.9" width="1.9" height="1.9" rx="0.4" fill="#8d9096"/></svg>
<div class="t" style="left:22px;top:243px;font-size:6.50px;color:#8d9096;transform:matrix(1,0.0004,0,1,0.10,0.94);transform-origin:0 0;letter-spacing:-0.144px;font-weight:bold;">TẤT CẢ CÁC MÔN THỂ THAO</div>
<svg style="left:10.00px;top:267.10px" width="13" height="13" viewBox="0 0 13 13"><circle cx="6.5" cy="6.5" r="5.9" stroke="#fff" fill="none" stroke-width="1"/><path d="M6.5 3.8L9 5.6L8 8.6H5L4 5.6Z" fill="#fff"/><path d="M6.5 0.8V3.8M9 5.6L12 4.6M8 8.6L9.8 11M5 8.6L3.2 11M4 5.6L1 4.6" stroke="#fff" stroke-width="0.9"/><path d="M4.6 1.2L6.5 2L8.4 1.2M11.6 3.6L11.4 5.6L12.4 7.2M10.8 10.2L9.2 10.6L8 12M5 12L3.8 10.6L2.2 10.2M0.6 7.2L1.6 5.6L1.4 3.6" stroke="#fff" stroke-width="0.7" fill="none"/></svg>
<div class="t" style="left:29px;top:270px;font-size:8.20px;color:#fff;transform:matrix(1,0.0004,0,1,0.30,0.62);transform-origin:0 0;letter-spacing:-0.256px;font-weight:bold;">Bóng đá</div>
<div class="a" style="left:145.9px;top:267.4px;width:12.4px;height:12.4px;border-radius:50%;background:#5d626c"></div><div class="a" style="left:149.4px;top:273.0px;width:5.4px;height:1.2px;background:#fff"></div><div class="a" style="left:151.5px;top:270.9px;width:1.2px;height:5.4px;background:#fff"></div>
<svg style="left:10.00px;top:296.30px" width="13" height="13" viewBox="0 0 13 13"><ellipse cx="8.4" cy="4.8" rx="4" ry="4.6" transform="rotate(40 8.4 4.8)" stroke="#fff" fill="none" stroke-width="1"/><path d="M5.4 8.2L1 12.6" stroke="#fff" stroke-width="1.3" stroke-linecap="round"/><path d="M6.2 2.4L10.8 7M7.8 1.2L12 5.4M5.4 4.6L9 8.2M10.6 1.4L5.6 6.4M12 3L7.2 7.8" stroke="#fff" stroke-width="0.45"/><circle cx="1.6" cy="1.8" r="1.1" stroke="#fff" fill="none" stroke-width="0.7"/></svg>
<div class="t" style="left:29px;top:299px;font-size:8.20px;color:#fff;transform:matrix(1,0.0004,0,1,0.30,0.82);transform-origin:0 0;letter-spacing:-0.360px;font-weight:bold;">Quần vợt</div>
<div class="a" style="left:145.9px;top:296.6px;width:12.4px;height:12.4px;border-radius:50%;background:#5d626c"></div><div class="a" style="left:149.4px;top:302.2px;width:5.4px;height:1.2px;background:#fff"></div><div class="a" style="left:151.5px;top:300.1px;width:1.2px;height:5.4px;background:#fff"></div>
<svg style="left:10.00px;top:325.50px" width="13" height="13" viewBox="0 0 13 13"><circle cx="6.5" cy="6.5" r="5.9" stroke="#fff" fill="none" stroke-width="1"/><path d="M2.2 2.4C4.4 4.6 4.6 8.4 2.4 10.8M10.8 2.4C8.6 4.6 8.4 8.4 10.6 10.8M6.5 0.6V12.4M0.6 6.5H12.4" stroke="#fff" fill="none" stroke-width="0.8"/></svg>
<div class="t" style="left:29px;top:329px;font-size:8.20px;color:#fff;transform:matrix(1,0.0004,0,1,0.30,0.02);transform-origin:0 0;letter-spacing:-0.288px;font-weight:bold;">Bóng rổ</div>
<div class="a" style="left:145.9px;top:325.8px;width:12.4px;height:12.4px;border-radius:50%;background:#5d626c"></div><div class="a" style="left:149.4px;top:331.4px;width:5.4px;height:1.2px;background:#fff"></div><div class="a" style="left:151.5px;top:329.3px;width:1.2px;height:5.4px;background:#fff"></div>
<svg style="left:10.00px;top:354.80px" width="13" height="13" viewBox="0 0 13 13"><path d="M2 8V6.2A4.5 4.5 0 0 1 11 6.2V8" stroke="#fff" fill="none" stroke-width="1.1"/><rect x="0.5" y="6.4" width="2.6" height="4.2" rx="1.1" fill="#fff"/><rect x="9.9" y="6.4" width="2.6" height="4.2" rx="1.1" fill="#fff"/><path d="M11 10.4C11 11.6 9.6 12.2 7.6 12.2" stroke="#fff" fill="none" stroke-width="0.8"/><circle cx="7" cy="12.2" r="0.9" fill="#fff"/></svg>
<div class="t" style="left:29px;top:358px;font-size:8.20px;color:#fff;transform:matrix(1,0.0004,0,1,0.30,0.32);transform-origin:0 0;letter-spacing:-0.431px;font-weight:bold;">Esports</div>
<div class="a" style="left:145.9px;top:355.1px;width:12.4px;height:12.4px;border-radius:50%;background:#5d626c"></div><div class="a" style="left:149.4px;top:360.7px;width:5.4px;height:1.2px;background:#fff"></div><div class="a" style="left:151.5px;top:358.6px;width:1.2px;height:5.4px;background:#fff"></div>
<svg style="left:10.00px;top:384.10px" width="13" height="13" viewBox="0 0 13 13"><path d="M1.6 8.4C0.4 4.6 3 1.2 6.6 1.2C9.6 1.2 11.6 3.4 11.6 6.2H8.2L7.2 8.6C7 10.6 5.2 11.6 3.6 11C2.6 10.6 2 9.6 1.6 8.4Z" stroke="#fff" fill="none" stroke-width="1"/><path d="M8.2 6.2V9.4H11.8V11.6H9.2L7.2 8.6M10 9.4V11.6" stroke="#fff" fill="none" stroke-width="0.8"/><circle cx="5" cy="8" r="0.8" fill="#fff"/></svg>
<div class="t" style="left:29px;top:387px;font-size:8.20px;color:#fff;transform:matrix(1,0.0004,0,1,0.30,0.62);transform-origin:0 0;letter-spacing:-0.275px;font-weight:bold;">Bóng đá Mỹ</div>
<div class="a" style="left:145.9px;top:384.4px;width:12.4px;height:12.4px;border-radius:50%;background:#5d626c"></div><div class="a" style="left:149.4px;top:390.0px;width:5.4px;height:1.2px;background:#fff"></div><div class="a" style="left:151.5px;top:387.9px;width:1.2px;height:5.4px;background:#fff"></div>
<div class="t" style="left:29px;top:416px;font-size:8.20px;color:#fff;transform:matrix(1,0.0004,0,1,0.30,0.72);transform-origin:0 0;letter-spacing:-0.368px;font-weight:bold;">FIFA</div>
<div class="a" style="left:145.9px;top:413.5px;width:12.4px;height:12.4px;border-radius:50%;background:#5d626c"></div><div class="a" style="left:149.4px;top:419.1px;width:5.4px;height:1.2px;background:#fff"></div><div class="a" style="left:151.5px;top:417.0px;width:1.2px;height:5.4px;background:#fff"></div>
<svg style="left:10.00px;top:442.20px" width="13" height="13" viewBox="0 0 13 13"><path d="M11.6 1.6C10.4 0.4 8.6 0.8 7.6 2.2L3.4 8L2.4 7.6L0.8 10.4L2.8 12L5 9.8L4.6 9L10.4 5.2C11.8 4.4 12.6 2.8 11.6 1.6Z" stroke="#fff" fill="none" stroke-width="1" stroke-linejoin="round"/><circle cx="1.8" cy="1.8" r="1.1" stroke="#fff" fill="none" stroke-width="0.7"/></svg>
<div class="t" style="left:29px;top:445px;font-size:8.20px;color:#fff;transform:matrix(1,0.0004,0,1,0.30,0.72);transform-origin:0 0;letter-spacing:-0.370px;font-weight:bold;">Bóng Gậy</div>
<div class="a" style="left:145.9px;top:442.5px;width:12.4px;height:12.4px;border-radius:50%;background:#5d626c"></div><div class="a" style="left:149.4px;top:448.1px;width:5.4px;height:1.2px;background:#fff"></div><div class="a" style="left:151.5px;top:446.0px;width:1.2px;height:5.4px;background:#fff"></div>
<div class="t" style="left:8px;top:416px;font-size:7.60px;color:#fff;transform:matrix(1,0.0004,0,1,0.60,0.61);transform-origin:0 0;letter-spacing:0.311px;font-weight:bold;">FI</div>
<div class="a" style="left:15.8px;top:410.0px;width:9.6px;height:9.6px;border-radius:50%;background:#fff"></div>
<svg style="left:18.40px;top:411.20px" width="4.4" height="6.6" viewBox="0 0 4.4 6.6"><path d="M2.4 0.2C3 1.6 4.2 2.6 4.2 4.2A2 2 0 0 1 0.2 4.2C0.2 3.2 0.8 2.8 1.2 2C1.6 2.4 1.8 2.8 2 3.2C2.4 2.2 2.6 1.2 2.4 0.2Z" fill="#e8223c"/></svg>
<svg style="left:17.20px;top:419.60px" width="7.4" height="5.4" viewBox="0 0 7.4 5.4"><path d="M1.6 0.4H5.8L7.2 4.8C7.2 5.4 6.4 5.4 6 4.8L5.2 3.4H2.2L1.4 4.8C1 5.4 0.2 5.4 0.2 4.8Z" fill="#fff"/></svg>
</div>
<div id="main" class="a">
<svg style="left:10.00px;top:9.00px" width="12.4" height="14" viewBox="0 0 11.8 14"><path d="M8.8 3.6H10.2A1 1 0 0 1 11.2 4.6V12.4A1 1 0 0 1 10.2 13.4H4.4A1 1 0 0 1 3.4 12.4V11" fill="none" stroke="#3bc117" stroke-width="1"/><rect x="0.6" y="0.6" width="7.8" height="10.2" rx="1.2" fill="none" stroke="#3bc117" stroke-width="1.1"/><path d="M2.4 3.2H6.6M2.4 5.4H6.6M2.4 7.6H6.6" stroke="#3bc117" stroke-width="1"/></svg>
<div class="t" style="left:29px;top:10px;font-size:11.80px;color:#fff;transform:matrix(1,0.0004,0,1,0.00,0.96);transform-origin:0 0;letter-spacing:0.265px;-webkit-text-stroke:0.25px #fff;">Cược của tôi</div>
<div class="a" style="left:8.00px;top:32.40px;width:35.20px;height:16.60px;background:#41b114;border-radius:8.3px;"></div>
<div class="t" style="left:16px;top:37px;font-size:7.00px;color:#fff;transform:matrix(1,0.0004,0,1,0.00,0.11);transform-origin:0 0;letter-spacing:-0.338px;font-weight:bold;">Tất cả</div>
<div class="a" style="left:48.00px;top:32.40px;width:44.20px;height:16.60px;background:#24262b;border-radius:8.3px;"></div>
<div class="t" style="left:56px;top:37px;font-size:7.00px;color:#fff;transform:matrix(1,0.0004,0,1,0.00,0.11);transform-origin:0 0;letter-spacing:-0.563px;font-weight:bold;">Cược mở</div>
<div class="a" style="left:97.00px;top:32.40px;width:44.80px;height:16.60px;background:#24262b;border-radius:8.3px;"></div>
<div class="t" style="left:105px;top:37px;font-size:7.00px;color:#fff;transform:matrix(1,0.0004,0,1,0.00,0.11);transform-origin:0 0;letter-spacing:-0.143px;font-weight:bold;">Đã thắng</div>
<div class="a" style="left:147.20px;top:32.40px;width:41.00px;height:16.60px;background:#24262b;border-radius:8.3px;"></div>
<div class="t" style="left:155px;top:37px;font-size:7.00px;color:#fff;transform:matrix(1,0.0004,0,1,0.20,0.11);transform-origin:0 0;letter-spacing:-0.095px;font-weight:bold;">Đã thua</div>
<div class="a" style="left:193.00px;top:32.40px;width:41.20px;height:16.60px;background:#24262b;border-radius:8.3px;"></div>
<div class="t" style="left:201px;top:37px;font-size:7.00px;color:#fff;transform:matrix(1,0.0004,0,1,0.00,0.11);transform-origin:0 0;letter-spacing:-0.107px;font-weight:bold;">Rút tiền</div>
<div class="a" style="left:239.00px;top:32.40px;width:38.80px;height:16.60px;background:#24262b;border-radius:8.3px;"></div>
<div class="t" style="left:247px;top:37px;font-size:7.00px;color:#fff;transform:matrix(1,0.0004,0,1,0.00,0.11);transform-origin:0 0;letter-spacing:-0.156px;font-weight:bold;">Đã hủy</div>
<div class="a" style="left:282.20px;top:32.40px;width:46.80px;height:16.60px;background:#24262b;border-radius:8.3px;"></div>
<div class="t" style="left:290px;top:37px;font-size:7.00px;color:#fff;transform:matrix(1,0.0004,0,1,0.20,0.11);transform-origin:0 0;letter-spacing:-0.121px;font-weight:bold;">Hoàn tiền</div>
<div class="a" style="left:456.00px;top:31.80px;width:157.80px;height:16.60px;background:#24262b;border-radius:8.3px;"></div>
<div class="t" style="left:465px;top:36px;font-size:7.00px;color:#fff;transform:matrix(1,0.0004,0,1,0.00,0.61);transform-origin:0 0;letter-spacing:-0.399px;font-weight:bold;">Cược gần đây</div>
<svg style="left:602.60px;top:38.80px" width="5" height="3" viewBox="0 0 5 3"><path d="M0 0H5L2.5 3Z" fill="#fff"/></svg>
<div class="a" style="left:8.00px;top:57.20px;width:298.80px;height:136.80px;background:#1e2024;border-radius:2.5px;"></div>
<div class="t" style="left:17px;top:63px;font-size:6.60px;color:#fff;transform:matrix(1,0.0004,0,1,0.05,0.57);transform-origin:0 0;letter-spacing:0.027px;font-weight:bold;">MỘT</div>
<div class="t" style="left:36px;top:63px;font-size:6.60px;color:#7b808a;transform:matrix(1,0.0004,0,1,0.25,0.57);transform-origin:0 0;letter-spacing:-0.277px;">11:48, 15 thg 11, 2022</div>
<div class="t" style="left:286px;top:63px;font-size:6.60px;color:#fff;transform:matrix(1,0.0004,0,1,0.80,0.57);transform-origin:0 0;letter-spacing:0.015px;font-weight:bold;">MỞ</div>
<div class="a" style="left:12.70px;top:75.00px;width:289.20px;height:33.40px;background:#25272b;border-radius:2.0px;"></div>
<svg style="left:18.05px;top:81.00px" width="6" height="6" viewBox="0 0 6 6"><circle cx="3" cy="3" r="2.6" fill="none" stroke="#9599a3" stroke-width="0.7"/><path d="M3 1.6L4.2 2.5L3.8 3.9H2.2L1.8 2.5Z" fill="#9599a3"/></svg>
<div class="t" style="left:27px;top:81px;font-size:6.80px;color:#9599a3;transform:matrix(1,0.0004,0,1,0.85,0.44);transform-origin:0 0;letter-spacing:0.233px;">Quốc Tế · Giao hữu quốc tế</div>
<div class="t" style="left:17px;top:96px;font-size:8.00px;color:#fff;transform:matrix(1,0.0004,0,1,0.05,0.25);transform-origin:0 0;letter-spacing:-0.136px;font-weight:bold;">Cộng hòa Dominica</div>
<div class="t" style="left:92px;top:96px;font-size:7.60px;color:#9599a3;transform:matrix(1,0.0004,0,1,0.25,0.31);transform-origin:0 0;letter-spacing:-0.013px;">vs</div>
<div class="t" style="left:102px;top:96px;font-size:8.00px;color:#fff;transform:matrix(1,0.0004,0,1,0.25,0.25);transform-origin:0 0;letter-spacing:-0.350px;font-weight:bold;">Cuba</div>
<div class="t" style="left:17px;top:114px;font-size:6.80px;color:#7b808a;transform:matrix(1,0.0004,0,1,0.05,0.24);transform-origin:0 0;letter-spacing:0.021px;">1X2 Cộng hòa Dominica</div>
<div class="t" style="left:286px;top:114px;font-size:6.80px;color:#7b808a;transform:matrix(1,0.0004,0,1,0.20,0.24);transform-origin:0 0;letter-spacing:-0.334px;">2.55</div>
<div class="t" style="left:17px;top:126px;font-size:6.80px;color:#9599a3;transform:matrix(1,0.0004,0,1,0.05,0.24);transform-origin:0 0;letter-spacing:-0.050px;">Tiền cược</div>
<div class="t" style="left:289px;top:126px;font-size:6.80px;color:#9599a3;transform:matrix(1,0.0004,0,1,0.00,0.24);transform-origin:0 0;letter-spacing:-0.128px;">2 $</div>
<div class="t" style="left:17px;top:138px;font-size:7.60px;color:#fff;transform:matrix(1,0.0004,0,1,0.05,0.31);transform-origin:0 0;letter-spacing:-0.039px;font-weight:bold;">PHẦN THẮNG CÓ THỂ NHẬN ĐƯỢC</div>
<div class="t" style="left:283px;top:138px;font-size:7.60px;color:#fff;transform:matrix(1,0.0004,0,1,0.00,0.31);transform-origin:0 0;letter-spacing:-0.392px;font-weight:bold;">5.1 $</div>
<div class="t" style="left:17px;top:179px;font-size:5.40px;color:#7b808a;transform:matrix(1,0.0004,0,1,0.05,0.36);transform-origin:0 0;letter-spacing:0.047px;">ID phiếu: 2204161525705482250</div>
<svg style="left:103.25px;top:178.50px" width="5.4" height="5.8" viewBox="0 0 5.4 5.8"><rect x="0.4" y="0.4" width="3.4" height="3.8" rx="0.7" fill="none" stroke="#7b808a" stroke-width="0.7"/><path d="M4.6 1.8V4.6A0.7 0.7 0 0 1 3.9 5.3H1.8" fill="none" stroke="#7b808a" stroke-width="0.7"/></svg>
<div class="a" style="left:16.60px;top:154.20px;width:244.20px;height:16.60px;background:#41b114;border-radius:8.3px;"></div>
<div class="t" style="left:113px;top:159px;font-size:7.40px;color:#fff;transform:matrix(1,0.0004,0,1,0.00,0.25);transform-origin:0 0;letter-spacing:-0.090px;font-weight:bold;">RÚT TIỀN 1.7 $</div>
<div class="a" style="left:268.80px;top:154.20px;width:29.40px;height:16.60px;background:#2d3035;border-radius:8.3px;"></div>
<svg style="left:279.60px;top:159.20px" width="7.6" height="6.4" viewBox="0 0 7.6 6.4"><path d="M0.6 6C0.8 3.6 2.2 2.6 4.4 2.6V0.6L7.2 3.2L4.4 5.8V4C2.8 4 1.6 4.6 0.6 6Z" fill="#fff"/></svg>
<div class="a" style="left:315.20px;top:57.20px;width:298.80px;height:136.80px;background:#1e2024;border-radius:2.5px;"></div>
<div class="t" style="left:324px;top:63px;font-size:6.60px;color:#fff;transform:matrix(1,0.0004,0,1,0.25,0.57);transform-origin:0 0;letter-spacing:-0.249px;font-weight:bold;">KẾT HỢP</div>
<div class="t" style="left:356px;top:63px;font-size:6.60px;color:#7b808a;transform:matrix(1,0.0004,0,1,0.85,0.57);transform-origin:0 0;letter-spacing:-0.254px;">21:37, 14 thg 11, 2022</div>
<div class="t" style="left:576px;top:63px;font-size:6.60px;color:#d6145f;transform:matrix(1,0.0004,0,1,0.40,0.57);transform-origin:0 0;letter-spacing:-0.145px;font-weight:bold;">ĐÃ THUA</div>
<div class="a" style="left:319.90px;top:75.00px;width:289.20px;height:33.40px;background:#25272b;border-radius:2.0px;"></div>
<div class="t" style="left:562.4px;top:71.0px;font-size:40px;color:#2c2e33;transform:scaleX(1.12);transform-origin:0 0">4</div>
<div class="t" style="left:324px;top:78px;font-size:9.60px;color:#eceef2;transform:matrix(1,0.0004,0,1,0.45,0.50);transform-origin:0 0;letter-spacing:0.193px;">Cược xiên 4</div>
<svg style="left:597.00px;top:92.20px" width="4.8" height="3" viewBox="0 0 5 3"><path d="M0 0H5L2.5 3Z" fill="#fff"/></svg>
<div class="a" style="left:324.25px;top:106.70px;width:69.34px;height:1.30px;background:#43b812;border-radius:0.0px;"></div>
<div class="a" style="left:394.79px;top:106.70px;width:69.34px;height:1.30px;background:#d6145f;border-radius:0.0px;"></div>
<div class="a" style="left:465.33px;top:106.70px;width:69.34px;height:1.30px;background:#43b812;border-radius:0.0px;"></div>
<div class="a" style="left:535.86px;top:106.70px;width:69.34px;height:1.30px;background:#43b812;border-radius:0.0px;"></div>
<div class="t" style="left:324px;top:114px;font-size:6.80px;color:#7b808a;transform:matrix(1,0.0004,0,1,0.25,0.24);transform-origin:0 0;letter-spacing:-0.346px;">TỔNG TỶ LỆ CƯỢC</div>
<div class="t" style="left:590px;top:114px;font-size:6.80px;color:#7b808a;transform:matrix(1,0.0004,0,1,0.00,0.24);transform-origin:0 0;letter-spacing:-0.338px;">5.743</div>
<div class="t" style="left:324px;top:126px;font-size:6.80px;color:#9599a3;transform:matrix(1,0.0004,0,1,0.25,0.24);transform-origin:0 0;letter-spacing:-0.050px;">Tiền cược</div>
<div class="t" style="left:597px;top:126px;font-size:6.80px;color:#9599a3;transform:matrix(1,0.0004,0,1,0.20,0.24);transform-origin:0 0;letter-spacing:-0.461px;">1 $</div>
<div class="t" style="left:324px;top:179px;font-size:5.40px;color:#7b808a;transform:matrix(1,0.0004,0,1,0.25,0.36);transform-origin:0 0;letter-spacing:0.030px;">ID phiếu: 2203946136366843Z297</div>
<svg style="left:413.25px;top:178.50px" width="5.4" height="5.8" viewBox="0 0 5.4 5.8"><rect x="0.4" y="0.4" width="3.4" height="3.8" rx="0.7" fill="none" stroke="#7b808a" stroke-width="0.7"/><path d="M4.6 1.8V4.6A0.7 0.7 0 0 1 3.9 5.3H1.8" fill="none" stroke="#7b808a" stroke-width="0.7"/></svg>
<div class="a" style="left:8.00px;top:203.20px;width:298.80px;height:138.60px;background:#1e2024;border-radius:2.5px;"></div>
<div class="t" style="left:17px;top:209px;font-size:6.60px;color:#fff;transform:matrix(1,0.0004,0,1,0.05,0.57);transform-origin:0 0;letter-spacing:0.027px;font-weight:bold;">MỘT</div>
<div class="t" style="left:36px;top:209px;font-size:6.60px;color:#7b808a;transform:matrix(1,0.0004,0,1,0.25,0.57);transform-origin:0 0;letter-spacing:-0.227px;">21:34, 14 thg 11, 2022</div>
<div class="t" style="left:257px;top:209px;font-size:6.60px;color:#f5b914;transform:matrix(1,0.0004,0,1,0.60,0.57);transform-origin:0 0;letter-spacing:-0.142px;font-weight:bold;">ĐÃ RÚT TIỀN</div>
<div class="a" style="left:12.70px;top:221.00px;width:289.20px;height:33.40px;background:#25272b;border-radius:2.0px;"></div>
<svg style="left:18.05px;top:227.00px" width="6" height="6" viewBox="0 0 6 6"><circle cx="3" cy="3" r="2.6" fill="none" stroke="#9599a3" stroke-width="0.7"/><path d="M3 1.6L4.2 2.5L3.8 3.9H2.2L1.8 2.5Z" fill="#9599a3"/></svg>
<div class="t" style="left:27px;top:227px;font-size:6.80px;color:#9599a3;transform:matrix(1,0.0004,0,1,0.85,0.44);transform-origin:0 0;letter-spacing:0.182px;">Hy Lạp · Giải Super League 2</div>
<div class="t" style="left:17px;top:242px;font-size:8.00px;color:#fff;transform:matrix(1,0.0004,0,1,0.05,0.25);transform-origin:0 0;letter-spacing:-0.126px;font-weight:bold;">Proodeftiki</div>
<div class="t" style="left:59px;top:242px;font-size:7.60px;color:#9599a3;transform:matrix(1,0.0004,0,1,0.85,0.31);transform-origin:0 0;letter-spacing:-0.013px;">vs</div>
<div class="t" style="left:69px;top:242px;font-size:8.00px;color:#fff;transform:matrix(1,0.0004,0,1,0.85,0.25);transform-origin:0 0;letter-spacing:-0.307px;font-weight:bold;">GS Kallithea FC</div>
<div class="t" style="left:275px;top:242px;font-size:7.00px;color:#9599a3;transform:matrix(1,0.0004,0,1,0.20,0.11);transform-origin:0 0;letter-spacing:-0.443px;">0:1</div>
<svg style="left:289.20px;top:243.00px" width="5.2" height="5.2" viewBox="0 0 5.2 5.2"><path d="M0.6 2.6V5M2.6 0.6V5M4.6 1.8V5" stroke="#9599a3" stroke-width="0.9"/></svg>
<div class="t" style="left:17px;top:260px;font-size:6.80px;color:#7b808a;transform:matrix(1,0.0004,0,1,0.05,0.24);transform-origin:0 0;letter-spacing:-0.290px;">1X2 hòa  0:1</div>
<div class="t" style="left:289px;top:260px;font-size:6.80px;color:#7b808a;transform:matrix(1,0.0004,0,1,0.00,0.24);transform-origin:0 0;letter-spacing:-0.128px;">4.4</div>
<div class="t" style="left:17px;top:272px;font-size:6.80px;color:#9599a3;transform:matrix(1,0.0004,0,1,0.05,0.24);transform-origin:0 0;letter-spacing:-0.050px;">Tiền cược</div>
<div class="t" style="left:290px;top:272px;font-size:6.80px;color:#9599a3;transform:matrix(1,0.0004,0,1,0.00,0.24);transform-origin:0 0;letter-spacing:-0.461px;">1 $</div>
<div class="t" style="left:17px;top:284px;font-size:7.60px;color:#fff;transform:matrix(1,0.0004,0,1,0.05,0.31);transform-origin:0 0;letter-spacing:-0.061px;font-weight:bold;">THẮNG</div>
<div class="t" style="left:276px;top:284px;font-size:7.60px;color:#fff;transform:matrix(1,0.0004,0,1,0.80,0.31);transform-origin:0 0;letter-spacing:0.000px;font-weight:bold;">0.75 $</div>
<div class="t" style="left:17px;top:327px;font-size:5.40px;color:#7b808a;transform:matrix(1,0.0004,0,1,0.05,0.46);transform-origin:0 0;letter-spacing:0.116px;">ID phiếu: 2203947760414236993</div>
<svg style="left:105.25px;top:326.60px" width="5.4" height="5.8" viewBox="0 0 5.4 5.8"><rect x="0.4" y="0.4" width="3.4" height="3.8" rx="0.7" fill="none" stroke="#7b808a" stroke-width="0.7"/><path d="M4.6 1.8V4.6A0.7 0.7 0 0 1 3.9 5.3H1.8" fill="none" stroke="#7b808a" stroke-width="0.7"/></svg>
<div class="t" style="left:126px;top:307px;font-size:7.80px;color:#f5b914;transform:matrix(1,0.0004,0,1,0.40,0.38);transform-origin:0 0;letter-spacing:0.021px;font-weight:bold;">Đã rút tiền 0.75 $</div>
<div class="a" style="left:315.20px;top:203.20px;width:298.80px;height:138.60px;background:#1e2024;border-radius:2.5px;"></div>
<div class="t" style="left:324px;top:209px;font-size:6.60px;color:#fff;transform:matrix(1,0.0004,0,1,0.25,0.57);transform-origin:0 0;letter-spacing:-0.249px;font-weight:bold;">KẾT HỢP</div>
<div class="t" style="left:356px;top:209px;font-size:6.60px;color:#7b808a;transform:matrix(1,0.0004,0,1,0.85,0.57);transform-origin:0 0;letter-spacing:-0.227px;">21:34, 14 thg 11, 2022</div>
<div class="t" style="left:576px;top:209px;font-size:6.60px;color:#d6145f;transform:matrix(1,0.0004,0,1,0.40,0.57);transform-origin:0 0;letter-spacing:-0.145px;font-weight:bold;">ĐÃ THUA</div>
<div class="a" style="left:319.90px;top:221.00px;width:289.20px;height:33.40px;background:#25272b;border-radius:2.0px;"></div>
<div class="t" style="left:563.9px;top:217.0px;font-size:40px;color:#2c2e33;transform:scaleX(1.12);transform-origin:0 0">3</div>
<div class="t" style="left:324px;top:224px;font-size:9.60px;color:#eceef2;transform:matrix(1,0.0004,0,1,0.45,0.60);transform-origin:0 0;letter-spacing:0.193px;">Cược xiên 3</div>
<svg style="left:597.00px;top:238.20px" width="4.8" height="3" viewBox="0 0 5 3"><path d="M0 0H5L2.5 3Z" fill="#fff"/></svg>
<div class="a" style="left:324.25px;top:252.70px;width:92.85px;height:1.30px;background:#43b812;border-radius:0.0px;"></div>
<div class="a" style="left:418.30px;top:252.70px;width:92.85px;height:1.30px;background:#43b812;border-radius:0.0px;"></div>
<div class="a" style="left:512.35px;top:252.70px;width:92.85px;height:1.30px;background:#d6145f;border-radius:0.0px;"></div>
<div class="t" style="left:324px;top:260px;font-size:6.80px;color:#7b808a;transform:matrix(1,0.0004,0,1,0.25,0.24);transform-origin:0 0;letter-spacing:-0.346px;">TỔNG TỶ LỆ CƯỢC</div>
<div class="t" style="left:589px;top:260px;font-size:6.80px;color:#7b808a;transform:matrix(1,0.0004,0,1,0.80,0.24);transform-origin:0 0;letter-spacing:-0.298px;">6.877</div>
<div class="t" style="left:324px;top:272px;font-size:6.80px;color:#9599a3;transform:matrix(1,0.0004,0,1,0.25,0.24);transform-origin:0 0;letter-spacing:-0.050px;">Tiền cược</div>
<div class="t" style="left:597px;top:272px;font-size:6.80px;color:#9599a3;transform:matrix(1,0.0004,0,1,0.20,0.24);transform-origin:0 0;letter-spacing:-0.461px;">1 $</div>
<div class="t" style="left:324px;top:327px;font-size:5.40px;color:#7b808a;transform:matrix(1,0.0004,0,1,0.25,0.46);transform-origin:0 0;letter-spacing:0.130px;">ID phiếu: 2203947760414236800</div>
<svg style="left:412.85px;top:326.60px" width="5.4" height="5.8" viewBox="0 0 5.4 5.8"><rect x="0.4" y="0.4" width="3.4" height="3.8" rx="0.7" fill="none" stroke="#7b808a" stroke-width="0.7"/><path d="M4.6 1.8V4.6A0.7 0.7 0 0 1 3.9 5.3H1.8" fill="none" stroke="#7b808a" stroke-width="0.7"/></svg>
<div class="a" style="left:8.00px;top:351.00px;width:298.80px;height:125.00px;background:#1e2024;border-radius:2.5px;"></div>
<div class="t" style="left:17px;top:357px;font-size:6.60px;color:#fff;transform:matrix(1,0.0004,0,1,0.05,0.37);transform-origin:0 0;letter-spacing:-0.249px;font-weight:bold;">KẾT HỢP</div>
<div class="t" style="left:49px;top:357px;font-size:6.60px;color:#7b808a;transform:matrix(1,0.0004,0,1,0.65,0.37);transform-origin:0 0;letter-spacing:-0.227px;">18:20, 14 thg 11, 2022</div>
<div class="t" style="left:263px;top:357px;font-size:6.60px;color:#3bc117;transform:matrix(1,0.0004,0,1,0.80,0.37);transform-origin:0 0;letter-spacing:-0.096px;font-weight:bold;">ĐÃ THẮNG</div>
<div class="a" style="left:12.70px;top:368.80px;width:289.20px;height:33.40px;background:#25272b;border-radius:2.0px;"></div>
<div class="t" style="left:257.4px;top:364.8px;font-size:40px;color:#2c2e33;transform:scaleX(1.12);transform-origin:0 0">2</div>
<div class="t" style="left:17px;top:372px;font-size:9.60px;color:#eceef2;transform:matrix(1,0.0004,0,1,0.25,0.10);transform-origin:0 0;letter-spacing:0.193px;">Cược xiên 2</div>
<svg style="left:289.80px;top:386.00px" width="4.8" height="3" viewBox="0 0 5 3"><path d="M0 0H5L2.5 3Z" fill="#fff"/></svg>
<div class="a" style="left:17.05px;top:400.50px;width:139.88px;height:1.30px;background:#43b812;border-radius:0.0px;"></div>
<div class="a" style="left:158.12px;top:400.50px;width:139.88px;height:1.30px;background:#43b812;border-radius:0.0px;"></div>
<div class="t" style="left:17px;top:408px;font-size:6.80px;color:#7b808a;transform:matrix(1,0.0004,0,1,0.05,0.04);transform-origin:0 0;letter-spacing:-0.346px;">TỔNG TỶ LỆ CƯỢC</div>
<div class="t" style="left:282px;top:408px;font-size:6.80px;color:#7b808a;transform:matrix(1,0.0004,0,1,0.60,0.04);transform-origin:0 0;letter-spacing:-0.298px;">4.374</div>
<div class="t" style="left:17px;top:420px;font-size:6.80px;color:#9599a3;transform:matrix(1,0.0004,0,1,0.05,0.04);transform-origin:0 0;letter-spacing:-0.050px;">Tiền cược</div>
<div class="t" style="left:290px;top:420px;font-size:6.80px;color:#9599a3;transform:matrix(1,0.0004,0,1,0.00,0.04);transform-origin:0 0;letter-spacing:-0.461px;">1 $</div>
<div class="t" style="left:17px;top:432px;font-size:7.60px;color:#fff;transform:matrix(1,0.0004,0,1,0.05,0.11);transform-origin:0 0;letter-spacing:-0.061px;font-weight:bold;">THẮNG</div>
<div class="t" style="left:276px;top:432px;font-size:7.60px;color:#fff;transform:matrix(1,0.0004,0,1,0.80,0.11);transform-origin:0 0;letter-spacing:0.000px;font-weight:bold;">4.37 $</div>
<div class="a" style="left:315.20px;top:351.00px;width:298.80px;height:125.00px;background:#1e2024;border-radius:2.5px;"></div>
<div class="t" style="left:324px;top:357px;font-size:6.60px;color:#fff;transform:matrix(1,0.0004,0,1,0.25,0.37);transform-origin:0 0;letter-spacing:0.027px;font-weight:bold;">MỘT</div>
<div class="t" style="left:343px;top:357px;font-size:6.60px;color:#7b808a;transform:matrix(1,0.0004,0,1,0.45,0.37);transform-origin:0 0;letter-spacing:-0.300px;">18:19, 14 thg 11, 2022</div>
<div class="t" style="left:571px;top:357px;font-size:6.60px;color:#3bc117;transform:matrix(1,0.0004,0,1,0.00,0.37);transform-origin:0 0;letter-spacing:-0.096px;font-weight:bold;">ĐÃ THẮNG</div>
<div class="a" style="left:319.90px;top:368.80px;width:289.20px;height:33.40px;background:#25272b;border-radius:2.0px;"></div>
<svg style="left:325.25px;top:374.80px" width="6" height="6" viewBox="0 0 6 6"><circle cx="3" cy="3" r="2.6" fill="none" stroke="#9599a3" stroke-width="0.7"/><path d="M3 1.6L4.2 2.5L3.8 3.9H2.2L1.8 2.5Z" fill="#9599a3"/></svg>
<div class="t" style="left:335px;top:375px;font-size:6.80px;color:#9599a3;transform:matrix(1,0.0004,0,1,0.05,0.24);transform-origin:0 0;letter-spacing:0.191px;">Ấn Độ · Giải Vô Địch Quốc Gia</div>
<div class="t" style="left:324px;top:390px;font-size:8.00px;color:#fff;transform:matrix(1,0.0004,0,1,0.25,0.05);transform-origin:0 0;letter-spacing:-0.262px;font-weight:bold;">Sudeva Delhi FC</div>
<div class="t" style="left:385px;top:390px;font-size:7.60px;color:#9599a3;transform:matrix(1,0.0004,0,1,0.85,0.11);transform-origin:0 0;letter-spacing:-0.013px;">vs</div>
<div class="t" style="left:395px;top:390px;font-size:8.00px;color:#fff;transform:matrix(1,0.0004,0,1,0.85,0.05);transform-origin:0 0;letter-spacing:-0.268px;font-weight:bold;">Kenkre FC</div>
<div class="t" style="left:582px;top:389px;font-size:7.00px;color:#9599a3;transform:matrix(1,0.0004,0,1,0.40,0.91);transform-origin:0 0;letter-spacing:-0.443px;">1:2</div>
<svg style="left:596.40px;top:390.80px" width="5.2" height="5.2" viewBox="0 0 5.2 5.2"><path d="M0.6 2.6V5M2.6 0.6V5M4.6 1.8V5" stroke="#9599a3" stroke-width="0.9"/></svg>
<div class="t" style="left:324px;top:408px;font-size:6.80px;color:#7b808a;transform:matrix(1,0.0004,0,1,0.25,0.04);transform-origin:0 0;letter-spacing:-0.227px;">1X2 Kenkre FC  0:1</div>
<div class="t" style="left:593px;top:408px;font-size:6.80px;color:#7b808a;transform:matrix(1,0.0004,0,1,0.20,0.04);transform-origin:0 0;letter-spacing:-0.284px;">2.65</div>
<div class="t" style="left:324px;top:420px;font-size:6.80px;color:#9599a3;transform:matrix(1,0.0004,0,1,0.25,0.04);transform-origin:0 0;letter-spacing:-0.050px;">Tiền cược</div>
<div class="t" style="left:597px;top:420px;font-size:6.80px;color:#9599a3;transform:matrix(1,0.0004,0,1,0.20,0.04);transform-origin:0 0;letter-spacing:-0.461px;">1 $</div>
<div class="t" style="left:324px;top:432px;font-size:7.60px;color:#fff;transform:matrix(1,0.0004,0,1,0.25,0.11);transform-origin:0 0;letter-spacing:-0.061px;font-weight:bold;">THẮNG</div>
<div class="t" style="left:584px;top:432px;font-size:7.60px;color:#fff;transform:matrix(1,0.0004,0,1,0.60,0.11);transform-origin:0 0;letter-spacing:-0.100px;font-weight:bold;">2.65 $</div>
<div class="a" style="left:453.80px;top:439.60px;width:166.60px;height:40.00px;background:#41b114;border-radius:3px 3px 0 0;"></div>
<svg style="left:465.00px;top:447.00px" width="11.2" height="15" viewBox="0 0 11.2 15"><rect x="0" y="0" width="11.2" height="15" rx="2" fill="#fff"/><path d="M2.8 4.2H8.4M2.8 7.5H8.4M2.8 10.8H8.4" stroke="#3bb018" stroke-width="1.5"/></svg>
<div class="t" style="left:483px;top:449px;font-size:9.60px;color:#fff;transform:matrix(1,0.0004,0,1,0.20,0.90);transform-origin:0 0;letter-spacing:-0.287px;">Phiếu cược</div>
<svg style="left:533.60px;top:453.40px" width="4" height="2.6" viewBox="0 0 4 2.6"><path d="M0 2.6H4L2 0Z" fill="#d9f7cf"/></svg>
<div class="t" style="left:564px;top:449px;font-size:5.20px;color:#fff;transform:matrix(1,0.0004,0,1,0.80,0.29);transform-origin:0 0;letter-spacing:-0.104px;font-weight:bold;">CƯỢC</div>
<div class="t" style="left:560px;top:455px;font-size:5.20px;color:#fff;transform:matrix(1,0.0004,0,1,0.00,0.19);transform-origin:0 0;letter-spacing:0.369px;font-weight:bold;">NHANH</div>
<div class="a" style="left:585.00px;top:448.60px;width:27.20px;height:12.40px;background:transparent;border-radius:6.2px;border:1.1px solid #fff"></div>
<div class="a" style="left:586.30px;top:450.00px;width:9.60px;height:9.60px;background:#fff;border-radius:4.8px;"></div>
<svg style="left:589.00px;top:451.60px" width="4.2" height="6.4" viewBox="0 0 4.2 6.4"><path d="M2.6 0L0.2 3.6H2L1.4 6.4L4 2.6H2.2Z" fill="#3bb018"/></svg>
</div>
<div id="chat" class="a">
<svg style="left:68.00px;top:38.00px" width="70" height="60" viewBox="0 0 70 60"><path d="M2 6C14 0 30 2 36 10C30 10 24 12 22 18C16 14 8 12 2 6Z" fill="#232529"/><circle cx="24" cy="24" r="4" fill="#232529"/></svg>
<svg style="left:138.00px;top:75.00px" width="46" height="60" viewBox="0 0 46 60"><circle cx="22" cy="6" r="4.5" fill="#232529"/><path d="M20 12C28 12 32 18 30 26L26 40L18 52L12 50L18 38L16 28L6 24L8 20L18 20Z" fill="#232529"/><circle cx="10" cy="55" r="4" fill="#232529"/></svg>
<svg style="left:144.00px;top:185.00px" width="40" height="60" viewBox="0 0 40 60"><circle cx="30" cy="6" r="4" fill="#232529"/><path d="M26 10L14 20L6 40L12 42L20 28L28 22Z" fill="#232529"/></svg>
<svg style="left:113.00px;top:250.00px" width="60" height="70" viewBox="0 0 60 70"><circle cx="36" cy="8" r="5" fill="#232529"/><path d="M34 14C42 16 44 24 40 30L32 44L22 58L16 54L24 40L22 30L12 26L14 22L26 22Z" fill="#232529"/></svg>
<svg style="left:168.00px;top:83.00px" width="16" height="16" viewBox="0 0 16 16"><circle cx="8" cy="8" r="7" fill="none" stroke="#232529" stroke-width="1.6"/><path d="M8 4.6L11.2 7L10 10.8H6L4.8 7Z" fill="#232529"/></svg>
<svg style="left:85.00px;top:165.00px" width="16" height="16" viewBox="0 0 16 16"><circle cx="8" cy="8" r="7" fill="none" stroke="#232529" stroke-width="1.6"/><path d="M8 4.6L11.2 7L10 10.8H6L4.8 7Z" fill="#232529"/></svg>
<svg style="left:164.00px;top:289.00px" width="16" height="16" viewBox="0 0 16 16"><circle cx="8" cy="8" r="7" fill="none" stroke="#232529" stroke-width="1.6"/><path d="M8 4.6L11.2 7L10 10.8H6L4.8 7Z" fill="#232529"/></svg>
<svg style="left:16.00px;top:322.00px" width="16" height="16" viewBox="0 0 16 16"><circle cx="8" cy="8" r="7" fill="none" stroke="#232529" stroke-width="1.6"/><path d="M8 4.6L11.2 7L10 10.8H6L4.8 7Z" fill="#232529"/></svg>
<div class="a" style="left:0.00px;top:0.00px;width:188.00px;height:33.20px;background:#1d1f23;border-radius:0.0px;"></div>
<div class="a" style="left:0.00px;top:15.00px;width:48.40px;height:18.00px;background:linear-gradient(180deg,rgba(59,193,23,0) 0%,rgba(59,193,23,0.22) 100%);border-radius:0.0px;"></div>
<div class="a" style="left:0.00px;top:32.30px;width:48.40px;height:1.40px;background:#37a818;border-radius:0.0px;"></div>
<div class="a" style="left:30.80px;top:33.60px;width:111.80px;height:4.80px;background:#25272c;border-radius:0 0 1.5px 1.5px;"></div>
<div class="a" style="left:7.80px;top:33.50px;width:19.40px;height:0.90px;background:#cfc8e0;border-radius:0.0px;"></div>
<div class="t" style="left:12px;top:13px;font-size:7.60px;color:#fff;transform:matrix(1,0.0004,0,1,0.60,0.31);transform-origin:0 0;letter-spacing:-0.058px;font-weight:bold;">Sports</div>
<svg style="left:53.00px;top:14.20px" width="3.6" height="5.4" viewBox="0 0 3.6 5.4"><path d="M0.5 0.5L3 2.7L0.5 4.9" fill="none" stroke="#6c717b" stroke-width="0.9"/></svg>
<svg style="left:134.60px;top:12.40px" width="9" height="9" viewBox="0 0 9 9"><circle cx="4.5" cy="4.5" r="3.9" fill="none" stroke="#5d626c" stroke-width="0.9"/><path d="M4.5 2.4V5.2M4.5 6.2V7" stroke="#5d626c" stroke-width="0.9"/></svg>
<svg style="left:153.00px;top:11.60px" width="10" height="10.4" viewBox="0 0 10 10.4"><path d="M2.4 0.4H7.6V4A2.6 2.6 0 0 1 2.4 4Z" fill="#f6b514"/><path d="M2.4 1.2H0.6V2.6A1.8 1.8 0 0 0 2.4 4.4M7.6 1.2H9.4V2.6A1.8 1.8 0 0 1 7.6 4.4" fill="none" stroke="#f6b514" stroke-width="0.9"/><path d="M4.2 6.4H5.8V8.4H7.4V9.8H2.6V8.4H4.2Z" fill="#e99b0c"/></svg>
<svg style="left:171.40px;top:13.80px" width="6" height="6" viewBox="0 0 6 6"><path d="M0.4 0.4L5.6 5.6M5.6 0.4L0.4 5.6" stroke="#8d939f" stroke-width="0.9"/></svg>
<div class="a" style="left:7.20px;top:38.30px;width:4.20px;height:4.20px;background:#e6e3f2;border-radius:2.1px;"></div>
<div class="a" style="left:11.40px;top:38.30px;width:4.20px;height:4.20px;background:#5a5e68;border-radius:2.1px;"></div>
<div class="a" style="left:15.60px;top:38.30px;width:4.20px;height:4.20px;background:#5a5e68;border-radius:2.1px;"></div>
<div class="a" style="left:19.80px;top:38.30px;width:4.20px;height:4.20px;background:#5a5e68;border-radius:2.1px;"></div>
<div class="a" style="left:24.00px;top:38.30px;width:4.20px;height:4.20px;background:#5a5e68;border-radius:2.1px;"></div>
<svg style="left:6.00px;top:47.70px" width="24" height="25" viewBox="0 0 24 25"><circle cx="11.6" cy="13.8" r="10.4" fill="#efc11f"/><circle cx="11.6" cy="13.8" r="9.3" fill="#f04a26"/><path d="M5.4 8.4C8 5.4 15 5.2 18.2 8.6C16 10.4 8 10.6 5.4 8.4Z" fill="#5b4fd2"/><circle cx="13.4" cy="9.4" r="1.7" fill="#f6c51e"/><circle cx="16.4" cy="10.4" r="1.5" fill="#f6c51e"/><circle cx="13.6" cy="9.6" r="0.6" fill="#2a1a10"/><circle cx="16.6" cy="10.6" r="0.6" fill="#2a1a10"/><path d="M5 17C8.6 19.6 14.6 19.4 18.4 16.4" stroke="#3c5ad0" stroke-width="1.2" fill="none"/><path d="M9.4 18.6V21.4" stroke="#3c5ad0" stroke-width="1.4"/><path d="M18.6 5.6A10.8 10.8 0 0 1 19.6 21" fill="none" stroke="#8a1a4c" stroke-width="1.5"/><path d="M1.2 16.6A10.8 10.8 0 0 1 4.2 5.8" fill="none" stroke="#8a1a4c" stroke-width="1.5"/><ellipse cx="3.4" cy="7.4" rx="2.5" ry="2" fill="#f5f0f2"/><ellipse cx="10.2" cy="3" rx="6" ry="4.2" fill="#f5f0f2" stroke="#8a1a4c" stroke-width="0.8"/><ellipse cx="10.8" cy="3" rx="1.7" ry="1.4" fill="#32101e"/><path d="M13.4 0.4C14.6 -0.6 15 -1.8 16.4 -2.6M14.6 1.6C16 1 17 0 17.6 -1" fill="none" stroke="#8a1a4c" stroke-width="1.1" stroke-linecap="round"/><path d="M4.6 4.4C6 3 7 2.6 8.4 2.8" fill="none" stroke="#8a1a4c" stroke-width="1"/></svg>
<div class="a" style="left:7.20px;top:69.10px;width:20.10px;height:8.30px;background:#e7dcfa;border-radius:0.8px;"></div>
<div class="t" style="left:10px;top:70px;font-size:6.40px;color:#3c3350;transform:matrix(1,0.0004,0,1,0.90,0.60);transform-origin:0 0;letter-spacing:0.486px;font-weight:bold;">V10</div>
<div class="a" style="left:7.20px;top:82.20px;width:4.20px;height:4.20px;background:#e6e3f2;border-radius:2.1px;"></div>
<div class="a" style="left:11.40px;top:82.20px;width:4.20px;height:4.20px;background:#5a5e68;border-radius:2.1px;"></div>
<div class="a" style="left:11.40px;top:82.20px;width:2.10px;height:4.20px;background:#e6e3f2;border-radius:2.1px 0 0 2.1px;"></div>
<div class="a" style="left:15.60px;top:82.20px;width:4.20px;height:4.20px;background:#5a5e68;border-radius:2.1px;"></div>
<div class="a" style="left:19.80px;top:82.20px;width:4.20px;height:4.20px;background:#5a5e68;border-radius:2.1px;"></div>
<div class="a" style="left:24.00px;top:82.20px;width:4.20px;height:4.20px;background:#5a5e68;border-radius:2.1px;"></div>
<div class="t" style="left:30px;top:52px;font-size:7.40px;color:#8d939f;transform:matrix(1,0.0004,0,1,0.90,0.95);transform-origin:0 0;letter-spacing:0.352px;">Lopxjxbljwb</div>
<div class="t" style="left:77px;top:53px;font-size:6.60px;color:#50555e;transform:matrix(1,0.0004,0,1,0.20,0.67);transform-origin:0 0;letter-spacing:-0.216px;">11:45</div>
<div class="a" style="left:30.80px;top:63.60px;width:28.80px;height:18.80px;background:#25272c;border-radius:1.5px;"></div>
<div class="t" style="left:36px;top:69px;font-size:7.40px;color:#c3c9d4;transform:matrix(1,0.0004,0,1,0.10,0.55);transform-origin:0 0;letter-spacing:0.040px;">Good</div>
<svg style="left:6.00px;top:91.70px" width="24" height="25" viewBox="0 0 24 25"><circle cx="11.6" cy="13.8" r="10.4" fill="#efc11f"/><circle cx="11.6" cy="13.8" r="9.3" fill="#7a6690"/><path d="M11 6C15 5 19.6 9 19.8 14C18 18 14 19 12 17C13.6 13 12.6 9 11 6Z" fill="#cfc3dc"/><path d="M3.4 12C5 8 8 7 10.4 8.4C11.4 12 10 17 7 20.4C4.6 18.6 3 15.6 3.4 12Z" fill="#4c3a62"/><path d="M8 21C10 18 14 18 17 20.6C14.6 22.8 10.6 23 8 21Z" fill="#3a2c4c"/><path d="M18.6 5.6A10.8 10.8 0 0 1 19.6 21" fill="none" stroke="#8a1a4c" stroke-width="1.5"/><path d="M1.2 16.6A10.8 10.8 0 0 1 4.2 5.8" fill="none" stroke="#8a1a4c" stroke-width="1.5"/><ellipse cx="3.4" cy="7.4" rx="2.5" ry="2" fill="#f5f0f2"/><ellipse cx="10.2" cy="3" rx="6" ry="4.2" fill="#f5f0f2" stroke="#8a1a4c" stroke-width="0.8"/><ellipse cx="10.8" cy="3" rx="1.7" ry="1.4" fill="#32101e"/><path d="M13.4 0.4C14.6 -0.6 15 -1.8 16.4 -2.6M14.6 1.6C16 1 17 0 17.6 -1" fill="none" stroke="#8a1a4c" stroke-width="1.1" stroke-linecap="round"/><path d="M4.6 4.4C6 3 7 2.6 8.4 2.8" fill="none" stroke="#8a1a4c" stroke-width="1"/></svg>
<div class="a" style="left:7.20px;top:113.10px;width:20.10px;height:8.30px;background:#e1e5ef;border-radius:0.8px;"></div>
<div class="t" style="left:13px;top:114px;font-size:6.40px;color:#2e3340;transform:matrix(1,0.0004,0,1,0.30,0.60);transform-origin:0 0;letter-spacing:0.402px;font-weight:bold;">V3</div>
<div class="a" style="left:7.20px;top:126.20px;width:4.20px;height:4.20px;background:#5a5e68;border-radius:2.1px;"></div>
<div class="a" style="left:7.20px;top:126.20px;width:2.10px;height:4.20px;background:#e6e3f2;border-radius:2.1px 0 0 2.1px;"></div>
<div class="a" style="left:11.40px;top:126.20px;width:4.20px;height:4.20px;background:#5a5e68;border-radius:2.1px;"></div>
<div class="a" style="left:15.60px;top:126.20px;width:4.20px;height:4.20px;background:#5a5e68;border-radius:2.1px;"></div>
<div class="a" style="left:19.80px;top:126.20px;width:4.20px;height:4.20px;background:#5a5e68;border-radius:2.1px;"></div>
<div class="a" style="left:24.00px;top:126.20px;width:4.20px;height:4.20px;background:#5a5e68;border-radius:2.1px;"></div>
<div class="t" style="left:30px;top:96px;font-size:7.40px;color:#8d939f;transform:matrix(1,0.0004,0,1,0.90,0.95);transform-origin:0 0;letter-spacing:-0.133px;">PEK77</div>
<div class="t" style="left:58px;top:97px;font-size:6.60px;color:#50555e;transform:matrix(1,0.0004,0,1,0.00,0.67);transform-origin:0 0;letter-spacing:-0.216px;">11:45</div>
<div class="a" style="left:30.80px;top:107.20px;width:72.20px;height:19.20px;background:#25272c;border-radius:1.5px;"></div>
<div class="t" style="left:36px;top:113px;font-size:7.40px;color:#3bb018;transform:matrix(1,0.0004,0,1,0.10,0.55);transform-origin:0 0;letter-spacing:-0.123px;font-weight:bold;">@`Izrå`ll</div>
<div class="t" style="left:66px;top:113px;font-size:7.40px;color:#c3c9d4;transform:matrix(1,0.0004,0,1,0.20,0.55);transform-origin:0 0;letter-spacing:0.075px;">nice . Bet</div>
<svg style="left:6.00px;top:136.70px" width="24" height="25" viewBox="0 0 24 25"><circle cx="11.6" cy="13.8" r="10.4" fill="#efc11f"/><circle cx="11.6" cy="13.8" r="9.3" fill="#3a3a3c"/><circle cx="12" cy="10.8" r="3.2" fill="#b9b9bb"/><path d="M6.4 20C7 15.6 16.4 15.6 17 20C14.4 22.4 9 22.4 6.4 20Z" fill="#8c8c90"/><path d="M18.6 5.6A10.8 10.8 0 0 1 19.6 21" fill="none" stroke="#8a1a4c" stroke-width="1.5"/><path d="M1.2 16.6A10.8 10.8 0 0 1 4.2 5.8" fill="none" stroke="#8a1a4c" stroke-width="1.5"/><ellipse cx="3.4" cy="7.4" rx="2.5" ry="2" fill="#f5f0f2"/><ellipse cx="10.2" cy="3" rx="6" ry="4.2" fill="#f5f0f2" stroke="#8a1a4c" stroke-width="0.8"/><ellipse cx="10.8" cy="3" rx="1.7" ry="1.4" fill="#32101e"/><path d="M13.4 0.4C14.6 -0.6 15 -1.8 16.4 -2.6M14.6 1.6C16 1 17 0 17.6 -1" fill="none" stroke="#8a1a4c" stroke-width="1.1" stroke-linecap="round"/><path d="M4.6 4.4C6 3 7 2.6 8.4 2.8" fill="none" stroke="#8a1a4c" stroke-width="1"/></svg>
<div class="a" style="left:7.20px;top:158.10px;width:20.10px;height:8.30px;background:#f6c21c;border-radius:0.8px;"></div>
<div class="t" style="left:10px;top:159px;font-size:6.40px;color:#3a2b05;transform:matrix(1,0.0004,0,1,0.90,0.60);transform-origin:0 0;letter-spacing:0.486px;font-weight:bold;">V32</div>
<div class="a" style="left:7.20px;top:171.20px;width:4.20px;height:4.20px;background:#f0b21a;border-radius:2.1px;"></div>
<div class="a" style="left:11.40px;top:171.20px;width:4.20px;height:4.20px;background:#f0b21a;border-radius:2.1px;"></div>
<div class="a" style="left:15.60px;top:171.20px;width:4.20px;height:4.20px;background:#f0b21a;border-radius:2.1px;"></div>
<div class="a" style="left:19.80px;top:171.20px;width:4.20px;height:4.20px;background:#5a5e68;border-radius:2.1px;"></div>
<div class="a" style="left:19.80px;top:171.20px;width:2.10px;height:4.20px;background:#f0b21a;border-radius:2.1px 0 0 2.1px;"></div>
<div class="a" style="left:24.00px;top:171.20px;width:4.20px;height:4.20px;background:#5a5e68;border-radius:2.1px;"></div>
<div class="t" style="left:30px;top:141px;font-size:7.40px;color:#8d939f;transform:matrix(1,0.0004,0,1,0.90,0.15);transform-origin:0 0;letter-spacing:0.309px;">s<span style="font-family:'DejaVu Sans',sans-serif;font-size:6.6px">ǝ</span>ıqno<span style="font-family:'DejaVu Sans',sans-serif;font-size:6.6px">ɹ⊥</span></div>
<div class="t" style="left:68px;top:141px;font-size:6.60px;color:#50555e;transform:matrix(1,0.0004,0,1,0.80,0.87);transform-origin:0 0;letter-spacing:-0.216px;">11:45</div>
<div class="a" style="left:30.80px;top:151.30px;width:148.00px;height:28.30px;background:#25272c;border-radius:1.5px;"></div>
<div class="t" style="left:36px;top:157px;font-size:7.40px;color:#3bb018;transform:matrix(1,0.0004,0,1,0.10,0.55);transform-origin:0 0;">@</div>
<svg style="left:43.30px;top:157.00px" width="7.2" height="7.8" viewBox="0 0 10 10.4"><path d="M2.4 0.4H7.6V4A2.6 2.6 0 0 1 2.4 4Z" fill="#f6b514"/><path d="M2.4 1.2H0.6V2.6A1.8 1.8 0 0 0 2.4 4.4M7.6 1.2H9.4V2.6A1.8 1.8 0 0 1 7.6 4.4" fill="none" stroke="#f6b514" stroke-width="0.9"/><path d="M4.2 6.4H5.8V8.4H7.4V9.8H2.6V8.4H4.2Z" fill="#e99b0c"/></svg>
<svg style="left:53.50px;top:157.00px" width="7.2" height="7.8" viewBox="0 0 10 10.4"><path d="M2.4 0.4H7.6V4A2.6 2.6 0 0 1 2.4 4Z" fill="#f6b514"/><path d="M2.4 1.2H0.6V2.6A1.8 1.8 0 0 0 2.4 4.4M7.6 1.2H9.4V2.6A1.8 1.8 0 0 1 7.6 4.4" fill="none" stroke="#f6b514" stroke-width="0.9"/><path d="M4.2 6.4H5.8V8.4H7.4V9.8H2.6V8.4H4.2Z" fill="#e99b0c"/></svg>
<svg style="left:82.50px;top:157.00px" width="7.2" height="7.8" viewBox="0 0 10 10.4"><path d="M2.4 0.4H7.6V4A2.6 2.6 0 0 1 2.4 4Z" fill="#f6b514"/><path d="M2.4 1.2H0.6V2.6A1.8 1.8 0 0 0 2.4 4.4M7.6 1.2H9.4V2.6A1.8 1.8 0 0 1 7.6 4.4" fill="none" stroke="#f6b514" stroke-width="0.9"/><path d="M4.2 6.4H5.8V8.4H7.4V9.8H2.6V8.4H4.2Z" fill="#e99b0c"/></svg>
<svg style="left:92.00px;top:157.00px" width="7.2" height="7.8" viewBox="0 0 10 10.4"><path d="M2.4 0.4H7.6V4A2.6 2.6 0 0 1 2.4 4Z" fill="#f6b514"/><path d="M2.4 1.2H0.6V2.6A1.8 1.8 0 0 0 2.4 4.4M7.6 1.2H9.4V2.6A1.8 1.8 0 0 1 7.6 4.4" fill="none" stroke="#f6b514" stroke-width="0.9"/><path d="M4.2 6.4H5.8V8.4H7.4V9.8H2.6V8.4H4.2Z" fill="#e99b0c"/></svg>
<div class="t" style="left:61px;top:157px;font-size:7.40px;color:#3bb018;transform:matrix(1,0.0004,0,1,0.50,0.55);transform-origin:0 0;letter-spacing:-0.023px;">HARA</div>
<div class="t" style="left:102px;top:157px;font-size:7.40px;color:#c3c9d4;transform:matrix(1,0.0004,0,1,0.60,0.55);transform-origin:0 0;letter-spacing:0.234px;">he's grouchy don't</div>
<div class="t" style="left:36px;top:166px;font-size:7.40px;color:#c3c9d4;transform:matrix(1,0.0004,0,1,0.10,0.95);transform-origin:0 0;letter-spacing:0.123px;">mind him</div>
<svg style="left:6.00px;top:186.60px" width="24" height="25" viewBox="0 0 24 25"><circle cx="11.6" cy="13.8" r="10.4" fill="#efc11f"/><circle cx="11.6" cy="13.8" r="9.3" fill="#55555a"/><path d="M7 21C7 14 11 9 15 10C18 11 17 17 16 21Z" fill="#bdbdc0"/><path d="M18.6 5.6A10.8 10.8 0 0 1 19.6 21" fill="none" stroke="#8a1a4c" stroke-width="1.5"/><path d="M1.2 16.6A10.8 10.8 0 0 1 4.2 5.8" fill="none" stroke="#8a1a4c" stroke-width="1.5"/><ellipse cx="3.4" cy="7.4" rx="2.5" ry="2" fill="#f5f0f2"/><ellipse cx="10.2" cy="3" rx="6" ry="4.2" fill="#f5f0f2" stroke="#8a1a4c" stroke-width="0.8"/><ellipse cx="10.8" cy="3" rx="1.7" ry="1.4" fill="#32101e"/><path d="M13.4 0.4C14.6 -0.6 15 -1.8 16.4 -2.6M14.6 1.6C16 1 17 0 17.6 -1" fill="none" stroke="#8a1a4c" stroke-width="1.1" stroke-linecap="round"/><path d="M4.6 4.4C6 3 7 2.6 8.4 2.8" fill="none" stroke="#8a1a4c" stroke-width="1"/></svg>
<div class="a" style="left:7.20px;top:208.00px;width:20.10px;height:8.30px;background:#e7dcfa;border-radius:0.8px;"></div>
<div class="t" style="left:10px;top:209px;font-size:6.40px;color:#3c3350;transform:matrix(1,0.0004,0,1,0.90,0.50);transform-origin:0 0;letter-spacing:0.486px;font-weight:bold;">V18</div>
<div class="a" style="left:7.20px;top:221.10px;width:4.20px;height:4.20px;background:#e6e3f2;border-radius:2.1px;"></div>
<div class="a" style="left:11.40px;top:221.10px;width:4.20px;height:4.20px;background:#5a5e68;border-radius:2.1px;"></div>
<div class="a" style="left:11.40px;top:221.10px;width:2.10px;height:4.20px;background:#e6e3f2;border-radius:2.1px 0 0 2.1px;"></div>
<div class="a" style="left:15.60px;top:221.10px;width:4.20px;height:4.20px;background:#5a5e68;border-radius:2.1px;"></div>
<div class="a" style="left:19.80px;top:221.10px;width:4.20px;height:4.20px;background:#5a5e68;border-radius:2.1px;"></div>
<div class="a" style="left:24.00px;top:221.10px;width:4.20px;height:4.20px;background:#5a5e68;border-radius:2.1px;"></div>
<div class="t" style="left:30px;top:191px;font-size:7.40px;color:#8d939f;transform:matrix(1,0.0004,0,1,0.90,0.85);transform-origin:0 0;letter-spacing:0.162px;"><span style="font-size:5.6px">PH</span>EūçkyMáề<span style="font-size:5.6px">PH</span></div>
<div class="t" style="left:87px;top:192px;font-size:6.60px;color:#50555e;transform:matrix(1,0.0004,0,1,0.50,0.57);transform-origin:0 0;letter-spacing:-0.216px;">11:49</div>
<div class="a" style="left:30.80px;top:201.10px;width:38.50px;height:19.60px;background:#25272c;border-radius:1.5px;"></div>
<svg style="left:36.60px;top:208.20px" width="5.6" height="6.8" viewBox="0 0 5.6 6.8"><path d="M2.8 0.2C3.6 1.8 5.4 2.8 5.4 4.4A2.6 2.6 0 0 1 0.2 4.4C0.2 2.8 2 1.8 2.8 0.2Z" fill="#f3c318"/><path d="M2.8 2.4C3.2 3.2 4 3.8 4 4.6A1.2 1.2 0 0 1 1.6 4.6C1.6 3.8 2.4 3.2 2.8 2.4Z" fill="#e79a10"/></svg>
<svg style="left:43.90px;top:208.20px" width="5.6" height="6.8" viewBox="0 0 5.6 6.8"><path d="M2.8 0.2C3.6 1.8 5.4 2.8 5.4 4.4A2.6 2.6 0 0 1 0.2 4.4C0.2 2.8 2 1.8 2.8 0.2Z" fill="#f3c318"/><path d="M2.8 2.4C3.2 3.2 4 3.8 4 4.6A1.2 1.2 0 0 1 1.6 4.6C1.6 3.8 2.4 3.2 2.8 2.4Z" fill="#e79a10"/></svg>
<svg style="left:51.20px;top:208.20px" width="5.6" height="6.8" viewBox="0 0 5.6 6.8"><path d="M2.8 0.2C3.6 1.8 5.4 2.8 5.4 4.4A2.6 2.6 0 0 1 0.2 4.4C0.2 2.8 2 1.8 2.8 0.2Z" fill="#f3c318"/><path d="M2.8 2.4C3.2 3.2 4 3.8 4 4.6A1.2 1.2 0 0 1 1.6 4.6C1.6 3.8 2.4 3.2 2.8 2.4Z" fill="#e79a10"/></svg>
<svg style="left:58.50px;top:208.20px" width="5.6" height="6.8" viewBox="0 0 5.6 6.8"><path d="M2.8 0.2C3.6 1.8 5.4 2.8 5.4 4.4A2.6 2.6 0 0 1 0.2 4.4C0.2 2.8 2 1.8 2.8 0.2Z" fill="#f3c318"/><path d="M2.8 2.4C3.2 3.2 4 3.8 4 4.6A1.2 1.2 0 0 1 1.6 4.6C1.6 3.8 2.4 3.2 2.8 2.4Z" fill="#e79a10"/></svg>
<svg style="left:6.00px;top:231.30px" width="24" height="25" viewBox="0 0 24 25"><circle cx="11.6" cy="13.8" r="10.4" fill="#efc11f"/><circle cx="11.6" cy="13.8" r="9.3" fill="#17110e"/><path d="M5.6 14.6C9 11.6 14 13.6 17.6 16C14 17.6 9 17.6 5.6 14.6Z" fill="#d9702a"/><path d="M18.6 5.6A10.8 10.8 0 0 1 19.6 21" fill="none" stroke="#8a1a4c" stroke-width="1.5"/><path d="M1.2 16.6A10.8 10.8 0 0 1 4.2 5.8" fill="none" stroke="#8a1a4c" stroke-width="1.5"/><ellipse cx="3.4" cy="7.4" rx="2.5" ry="2" fill="#f5f0f2"/><ellipse cx="10.2" cy="3" rx="6" ry="4.2" fill="#f5f0f2" stroke="#8a1a4c" stroke-width="0.8"/><ellipse cx="10.8" cy="3" rx="1.7" ry="1.4" fill="#32101e"/><path d="M13.4 0.4C14.6 -0.6 15 -1.8 16.4 -2.6M14.6 1.6C16 1 17 0 17.6 -1" fill="none" stroke="#8a1a4c" stroke-width="1.1" stroke-linecap="round"/><path d="M4.6 4.4C6 3 7 2.6 8.4 2.8" fill="none" stroke="#8a1a4c" stroke-width="1"/></svg>
<div class="a" style="left:7.20px;top:252.70px;width:20.10px;height:8.30px;background:#6a35e0;border-radius:0.8px;"></div>
<div class="t" style="left:10px;top:254px;font-size:6.40px;color:#fff;transform:matrix(1,0.0004,0,1,0.90,0.20);transform-origin:0 0;letter-spacing:0.486px;font-weight:bold;">V40</div>
<div class="a" style="left:7.20px;top:265.80px;width:4.20px;height:4.20px;background:#7b3ff0;border-radius:2.1px;"></div>
<div class="a" style="left:11.40px;top:265.80px;width:4.20px;height:4.20px;background:#7b3ff0;border-radius:2.1px;"></div>
<div class="a" style="left:15.60px;top:265.80px;width:4.20px;height:4.20px;background:#7b3ff0;border-radius:2.1px;"></div>
<div class="a" style="left:19.80px;top:265.80px;width:4.20px;height:4.20px;background:#5a5e68;border-radius:2.1px;"></div>
<div class="a" style="left:19.80px;top:265.80px;width:2.10px;height:4.20px;background:#7b3ff0;border-radius:2.1px 0 0 2.1px;"></div>
<div class="a" style="left:24.00px;top:265.80px;width:4.20px;height:4.20px;background:#5a5e68;border-radius:2.1px;"></div>
<div class="t" style="left:30px;top:235px;font-size:7.40px;color:#8d939f;transform:matrix(1,0.0004,0,1,0.90,0.35);transform-origin:0 0;letter-spacing:0.132px;">Cuma</div>
<div class="t" style="left:56px;top:236px;font-size:6.60px;color:#50555e;transform:matrix(1,0.0004,0,1,0.00,0.07);transform-origin:0 0;letter-spacing:-0.216px;">11:49</div>
<div class="a" style="left:30.80px;top:244.90px;width:68.70px;height:19.40px;background:#25272c;border-radius:1.5px;"></div>
<div class="t" style="left:35px;top:251px;font-size:7.40px;color:#c3c9d4;transform:matrix(1,0.0004,0,1,0.80,0.85);transform-origin:0 0;letter-spacing:0.027px;">BCGame love</div>
<svg style="left:85.60px;top:252.40px" width="7.4" height="5.6" viewBox="0 0 7.4 5.6"><path d="M0.4 3.4L3 0.6L4.2 1.6L5.6 0.4L7.2 2L4 5.2Z" fill="#d9182d"/><path d="M0.4 3.4L4 5.2L5 4.2Z" fill="#8e0f1f"/></svg>
<svg style="left:6.00px;top:274.30px" width="24" height="25" viewBox="0 0 24 25"><circle cx="11.6" cy="13.8" r="10.4" fill="#efc11f"/><circle cx="11.6" cy="13.8" r="9.3" fill="#2c1c8e"/><path d="M6 19L11 7L14 13L18 10L16 20Z" fill="#6f52f0"/><circle cx="11" cy="12" r="2" fill="#c9c0ff"/><path d="M18.6 5.6A10.8 10.8 0 0 1 19.6 21" fill="none" stroke="#8a1a4c" stroke-width="1.5"/><path d="M1.2 16.6A10.8 10.8 0 0 1 4.2 5.8" fill="none" stroke="#8a1a4c" stroke-width="1.5"/><ellipse cx="3.4" cy="7.4" rx="2.5" ry="2" fill="#f5f0f2"/><ellipse cx="10.2" cy="3" rx="6" ry="4.2" fill="#f5f0f2" stroke="#8a1a4c" stroke-width="0.8"/><ellipse cx="10.8" cy="3" rx="1.7" ry="1.4" fill="#32101e"/><path d="M13.4 0.4C14.6 -0.6 15 -1.8 16.4 -2.6M14.6 1.6C16 1 17 0 17.6 -1" fill="none" stroke="#8a1a4c" stroke-width="1.1" stroke-linecap="round"/><path d="M4.6 4.4C6 3 7 2.6 8.4 2.8" fill="none" stroke="#8a1a4c" stroke-width="1"/></svg>
<div class="a" style="left:7.20px;top:295.70px;width:20.10px;height:8.30px;background:#6a35e0;border-radius:0.8px;"></div>
<div class="t" style="left:10px;top:297px;font-size:6.40px;color:#fff;transform:matrix(1,0.0004,0,1,0.90,0.20);transform-origin:0 0;letter-spacing:0.486px;font-weight:bold;">V39</div>
<div class="a" style="left:7.20px;top:308.80px;width:4.20px;height:4.20px;background:#7b3ff0;border-radius:2.1px;"></div>
<div class="a" style="left:11.40px;top:308.80px;width:4.20px;height:4.20px;background:#7b3ff0;border-radius:2.1px;"></div>
<div class="a" style="left:15.60px;top:308.80px;width:4.20px;height:4.20px;background:#7b3ff0;border-radius:2.1px;"></div>
<div class="a" style="left:19.80px;top:308.80px;width:4.20px;height:4.20px;background:#5a5e68;border-radius:2.1px;"></div>
<div class="a" style="left:19.80px;top:308.80px;width:2.10px;height:4.20px;background:#7b3ff0;border-radius:2.1px 0 0 2.1px;"></div>
<div class="a" style="left:24.00px;top:308.80px;width:4.20px;height:4.20px;background:#5a5e68;border-radius:2.1px;"></div>
<div class="t" style="left:30px;top:278px;font-size:7.40px;color:#8d939f;transform:matrix(1,0.0004,0,1,0.90,0.85);transform-origin:0 0;letter-spacing:0.231px;"><span style="font-size:5.6px">M-T</span>-\arleyQµ¡nn</div>
<div class="t" style="left:91px;top:279px;font-size:6.60px;color:#50555e;transform:matrix(1,0.0004,0,1,0.30,0.57);transform-origin:0 0;letter-spacing:-0.216px;">11:49</div>
<div class="a" style="left:32.9px;top:289.9px;width:120.2px;height:60.1px;overflow:hidden;background:linear-gradient(118deg,#f48a3a 0%,#ea6a5e 14%,#d2559a 32%,#b048cc 50%,#9239f2 70%,#8432ff 100%)"><div class="a" style="left:0;top:30px;width:120.2px;height:30.1px;background:linear-gradient(180deg,rgba(136,52,250,0) 0%,rgba(140,50,245,0.45) 100%)"></div><div class="a" style="left:71.9px;top:14.2px;width:13.0px;height:4.7px;border-radius:2.3px;background:#b88df3"></div><div class="a" style="left:75.5px;top:10.8px;width:6.5px;height:6.5px;border-radius:50%;background:#b88df3"></div><div class="a" style="left:72.9px;top:12.9px;width:4.4px;height:4.4px;border-radius:50%;background:#b88df3"></div><div class="a" style="left:100.9px;top:20.6px;width:9.4px;height:3.4px;border-radius:1.7px;background:#a878f6"></div><div class="a" style="left:103.5px;top:18.2px;width:4.7px;height:4.7px;border-radius:50%;background:#a878f6"></div><div class="a" style="left:101.7px;top:19.7px;width:3.2px;height:3.2px;border-radius:50%;background:#a878f6"></div><div class="a" style="left:52.6px;top:31.6px;width:10.0px;height:3.6px;border-radius:1.8px;background:#c58bea"></div><div class="a" style="left:55.4px;top:29.0px;width:5.0px;height:5.0px;border-radius:50%;background:#c58bea"></div><div class="a" style="left:53.4px;top:30.6px;width:3.4px;height:3.4px;border-radius:50%;background:#c58bea"></div><svg style="left:73px;top:28.5px;opacity:0.8" width="44" height="19.5" viewBox="0 0 46 22"><path d="M2.4 16.6C9 15.4 14 13.6 18 10C22 6.4 26 3.6 31 2.6L33.6 6.6C37 7.6 41.6 9.6 42.6 12.6C40 17 30 19.6 22 19C14 18.6 7 18.2 2.4 16.6Z" fill="#c9a4f7"/><path d="M19.6 8.8C21.6 12.4 23.6 15.6 26 18.8M24.6 5.2C27.4 9.4 30 13.4 33.4 17.4M30.4 2.8C33 7 36 10.6 40.4 14.4" stroke="#8a4be8" stroke-width="2.3" fill="none"/><path d="M14 13C15.6 15.4 17 17 19 18.8" stroke="#8a4be8" stroke-width="2" fill="none"/><path d="M31 2.6L33.6 6.6L36 4.4Z" fill="#f0dfff"/></svg><div class="a" style="left:67.4px;top:27.2px;width:21.4px;height:8.4px;border-radius:50%;background:#d86a20"></div><div class="a" style="left:67.4px;top:24.2px;width:21.4px;height:8.6px;border-radius:50%;background:#f08a30"></div><div class="a" style="left:67.4px;top:24.6px;width:21.4px;height:8.4px;border-radius:50%;background:#e07a26"></div><div class="a" style="left:67.4px;top:21.6px;width:21.4px;height:8.6px;border-radius:50%;background:#f7a348"></div><div class="a" style="left:70.8px;top:23px;width:14.6px;height:5.2px;border-radius:50%;background:#f9b45c"></div><svg style="left:88.2px;top:20.2px" width="3.6" height="4.4" viewBox="0 0 3.6 4.4"><path d="M1.8 0L2.3 1.7L3.6 2.2L2.3 2.7L1.8 4.4L1.3 2.7L0 2.2L1.3 1.7Z" fill="#f8b63a"/></svg><svg style="left:78.6px;top:38.6px" width="3.6" height="4.4" viewBox="0 0 3.6 4.4"><path d="M1.8 0L2.3 1.7L3.6 2.2L2.3 2.7L1.8 4.4L1.3 2.7L0 2.2L1.3 1.7Z" fill="#f3e8ff"/></svg><div class="a" style="left:-16.6px;top:8.65px;width:60px;height:9.5px;background:#41bd1c;transform:rotate(-45deg);transform-origin:50% 50%"></div><div class="t b" style="left:-7px;top:10.6px;width:40px;text-align:center;font-size:5.6px;color:#ecffe2;transform:rotate(-45deg);transform-origin:50% 50%;letter-spacing:-0.319px">GOOD LUCK</div><div class="t b" style="left:16.6px;top:12.2px;font-size:8.4px;color:#fff;letter-spacing:-0.245px">CoinDrops</div><div class="t b" style="left:16.6px;top:22.6px;font-size:6.4px;color:#f9ac1c;letter-spacing:-0.362px">Good Luck!</div><div class="a" style="left:11.4px;top:36.4px;width:53.9px;height:16.6px;border-radius:1.5px;background:linear-gradient(90deg,rgba(250,170,90,0.66),rgba(235,140,150,0.5))"></div><div class="t b" style="left:17.9px;top:41.1px;font-size:7.3px;color:#6d2a9c;letter-spacing:0.103px">Hoàn thành</div></div>
<svg style="left:6.00px;top:358.20px" width="24" height="25" viewBox="0 0 24 25"><circle cx="11.6" cy="13.8" r="10.4" fill="#efc11f"/><circle cx="11.6" cy="13.8" r="9.3" fill="#e9e2d6"/><circle cx="11.8" cy="11.8" r="3.6" fill="#9c6a4e"/><path d="M8.4 10.2C9.4 7.6 14.2 7.6 15.2 10.2C13 9.4 10.6 9.4 8.4 10.2Z" fill="#2d231e"/><path d="M5.2 19C6.6 15.4 16.8 15.4 18.2 19C15.4 22.4 8 22.4 5.2 19Z" fill="#2c7fe0"/><path d="M18.6 5.6A10.8 10.8 0 0 1 19.6 21" fill="none" stroke="#8a1a4c" stroke-width="1.5"/><path d="M1.2 16.6A10.8 10.8 0 0 1 4.2 5.8" fill="none" stroke="#8a1a4c" stroke-width="1.5"/><ellipse cx="3.4" cy="7.4" rx="2.5" ry="2" fill="#f5f0f2"/><ellipse cx="10.2" cy="3" rx="6" ry="4.2" fill="#f5f0f2" stroke="#8a1a4c" stroke-width="0.8"/><ellipse cx="10.8" cy="3" rx="1.7" ry="1.4" fill="#32101e"/><path d="M13.4 0.4C14.6 -0.6 15 -1.8 16.4 -2.6M14.6 1.6C16 1 17 0 17.6 -1" fill="none" stroke="#8a1a4c" stroke-width="1.1" stroke-linecap="round"/><path d="M4.6 4.4C6 3 7 2.6 8.4 2.8" fill="none" stroke="#8a1a4c" stroke-width="1"/></svg>
<div class="a" style="left:7.20px;top:379.60px;width:20.10px;height:8.30px;background:#e7dcfa;border-radius:0.8px;"></div>
<div class="t" style="left:10px;top:381px;font-size:6.40px;color:#3c3350;transform:matrix(1,0.0004,0,1,0.90,0.10);transform-origin:0 0;letter-spacing:0.486px;font-weight:bold;">V18</div>
<div class="a" style="left:7.20px;top:392.70px;width:4.20px;height:4.20px;background:#e6e3f2;border-radius:2.1px;"></div>
<div class="a" style="left:11.40px;top:392.70px;width:4.20px;height:4.20px;background:#5a5e68;border-radius:2.1px;"></div>
<div class="a" style="left:11.40px;top:392.70px;width:2.10px;height:4.20px;background:#e6e3f2;border-radius:2.1px 0 0 2.1px;"></div>
<div class="a" style="left:15.60px;top:392.70px;width:4.20px;height:4.20px;background:#5a5e68;border-radius:2.1px;"></div>
<div class="a" style="left:19.80px;top:392.70px;width:4.20px;height:4.20px;background:#5a5e68;border-radius:2.1px;"></div>
<div class="a" style="left:24.00px;top:392.70px;width:4.20px;height:4.20px;background:#5a5e68;border-radius:2.1px;"></div>
<div class="t" style="left:30px;top:362px;font-size:7.40px;color:#8d939f;transform:matrix(1,0.0004,0,1,0.90,0.75);transform-origin:0 0;letter-spacing:0.233px;">Mohammademami163</div>
<div class="t" style="left:113px;top:363px;font-size:6.60px;color:#50555e;transform:matrix(1,0.0004,0,1,0.60,0.47);transform-origin:0 0;letter-spacing:-0.216px;">11:50</div>
<div class="a" style="left:31.00px;top:372.90px;width:32.50px;height:19.80px;background:#25272c;border-radius:1.5px;"></div>
<div class="t" style="left:35px;top:379px;font-size:7.40px;color:#c3c9d4;transform:matrix(1,0.0004,0,1,0.70,0.55);transform-origin:0 0;letter-spacing:0.114px;">Gghsh</div>
<svg style="left:6.00px;top:402.30px" width="24" height="25" viewBox="0 0 24 25"><circle cx="11.6" cy="13.8" r="10.4" fill="#efc11f"/><circle cx="11.6" cy="13.8" r="9.3" fill="#3a3a3c"/><circle cx="12" cy="10.8" r="3.2" fill="#b9b9bb"/><path d="M6.4 20C7 15.6 16.4 15.6 17 20C14.4 22.4 9 22.4 6.4 20Z" fill="#8c8c90"/><path d="M18.6 5.6A10.8 10.8 0 0 1 19.6 21" fill="none" stroke="#8a1a4c" stroke-width="1.5"/><path d="M1.2 16.6A10.8 10.8 0 0 1 4.2 5.8" fill="none" stroke="#8a1a4c" stroke-width="1.5"/><ellipse cx="3.4" cy="7.4" rx="2.5" ry="2" fill="#f5f0f2"/><ellipse cx="10.2" cy="3" rx="6" ry="4.2" fill="#f5f0f2" stroke="#8a1a4c" stroke-width="0.8"/><ellipse cx="10.8" cy="3" rx="1.7" ry="1.4" fill="#32101e"/><path d="M13.4 0.4C14.6 -0.6 15 -1.8 16.4 -2.6M14.6 1.6C16 1 17 0 17.6 -1" fill="none" stroke="#8a1a4c" stroke-width="1.1" stroke-linecap="round"/><path d="M4.6 4.4C6 3 7 2.6 8.4 2.8" fill="none" stroke="#8a1a4c" stroke-width="1"/></svg>
<div class="a" style="left:7.20px;top:423.70px;width:20.10px;height:8.30px;background:#f6c21c;border-radius:0.8px;"></div>
<div class="t" style="left:10px;top:425px;font-size:6.40px;color:#3a2b05;transform:matrix(1,0.0004,0,1,0.90,0.20);transform-origin:0 0;letter-spacing:0.486px;font-weight:bold;">V32</div>
<div class="a" style="left:7.20px;top:436.80px;width:4.20px;height:4.20px;background:#f0b21a;border-radius:2.1px;"></div>
<div class="a" style="left:11.40px;top:436.80px;width:4.20px;height:4.20px;background:#f0b21a;border-radius:2.1px;"></div>
<div class="a" style="left:15.60px;top:436.80px;width:4.20px;height:4.20px;background:#f0b21a;border-radius:2.1px;"></div>
<div class="a" style="left:19.80px;top:436.80px;width:4.20px;height:4.20px;background:#5a5e68;border-radius:2.1px;"></div>
<div class="a" style="left:19.80px;top:436.80px;width:2.10px;height:4.20px;background:#f0b21a;border-radius:2.1px 0 0 2.1px;"></div>
<div class="a" style="left:24.00px;top:436.80px;width:4.20px;height:4.20px;background:#5a5e68;border-radius:2.1px;"></div>
<div class="t" style="left:30px;top:406px;font-size:7.40px;color:#8d939f;transform:matrix(1,0.0004,0,1,0.90,0.55);transform-origin:0 0;letter-spacing:0.271px;">s<span style="font-family:'DejaVu Sans',sans-serif;font-size:6.6px">ǝ</span>ıqno<span style="font-family:'DejaVu Sans',sans-serif;font-size:6.6px">ɹ⊥</span></div>
<div class="t" style="left:69px;top:407px;font-size:6.60px;color:#50555e;transform:matrix(1,0.0004,0,1,0.00,0.27);transform-origin:0 0;letter-spacing:-0.216px;">11:50</div>
<div class="a" style="left:31.00px;top:416.60px;width:26.70px;height:19.60px;background:#25272c;border-radius:1.5px;"></div>
<div class="t" style="left:36px;top:423px;font-size:7.40px;color:#c3c9d4;transform:matrix(1,0.0004,0,1,0.50,0.05);transform-origin:0 0;letter-spacing:-0.071px;">Thxs</div>
<div class="a" style="left:0.00px;top:442.20px;width:188.00px;height:60.00px;background:#1f2125;border-radius:0.0px;"></div>
<svg style="left:143.00px;top:390.00px" width="42" height="70" viewBox="0 0 42 70"><path d="M10.8 21C12 26 9 30 11.6 35M16.8 50C18 54 15.6 58 17 62M29 38C31.6 46 28 56 30 68" fill="none" stroke="#8a8a8e" stroke-width="0.6"/><ellipse cx="10.8" cy="11.8" rx="7.6" ry="9.2" fill="#f3f3f3"/><ellipse cx="29" cy="28.8" rx="7" ry="8.8" fill="#8a1538"/><path d="M22 28.8A7 8.8 0 0 1 27.4 20.2L29 22L27.2 24L29 26L27.2 28L29 30L27.2 32L29 34L27.4 37.4A7 8.8 0 0 1 22 28.8Z" fill="#f3f3f3"/><ellipse cx="16.4" cy="41.8" rx="5.6" ry="6.6" fill="#8a1450"/></svg>
<div class="a" style="left:6.30px;top:451.00px;width:175.70px;height:22.30px;background:#17181b;border-radius:1.5px;"></div>
<div class="t" style="left:16px;top:458px;font-size:7.20px;color:#858b97;transform:matrix(1,0.0004,0,1,0.70,0.08);transform-origin:0 0;letter-spacing:0.028px;">Tin nhắn của bạn</div>
<svg style="left:165.00px;top:457.80px" width="9" height="9" viewBox="0 0 9 9"><circle cx="4.5" cy="4.5" r="3.9" fill="none" stroke="#7d838e" stroke-width="0.8"/><circle cx="3.2" cy="3.8" r="0.5" fill="#7d838e"/><circle cx="5.8" cy="3.8" r="0.5" fill="#7d838e"/><path d="M3 5.6C3.8 6.4 5.2 6.4 6 5.6" fill="none" stroke="#7d838e" stroke-width="0.6"/></svg>
<svg style="left:9.40px;top:483.00px" width="8" height="8.4" viewBox="0 0 8 8.4"><path d="M3 0.4C4 2.4 5.8 3.6 5.8 5.4A2.8 2.8 0 0 1 0.2 5.4C0.2 3.6 2 2.4 3 0.4Z" fill="#5d626c"/><circle cx="6.6" cy="2" r="1.2" fill="#5d626c"/></svg>
<svg style="left:32.00px;top:483.40px" width="7" height="8" viewBox="0 0 7 8"><path d="M2.8 0.4L0.8 7.4" stroke="#5d626c" stroke-width="1"/><path d="M3 7H6.6" stroke="#5d626c" stroke-width="1"/></svg>
<svg style="left:53.00px;top:482.80px" width="9" height="9" viewBox="0 0 9 9"><circle cx="4" cy="5" r="3.2" fill="#5d626c"/><path d="M5.6 2.4L8 0.6M6.6 3.4L8.6 2.6" stroke="#5d626c" stroke-width="0.9"/><circle cx="4" cy="5" r="1.2" fill="#1f2125"/></svg>
<svg style="left:168.60px;top:483.20px" width="9.6" height="8" viewBox="0 0 9.6 8"><rect x="0.4" y="0.4" width="8.8" height="7.2" rx="1.2" fill="#5d626c"/><path d="M0.4 2H9.2" stroke="#1f2125" stroke-width="0.7"/><text x="4.8" y="6.4" font-size="3.6" font-weight="bold" font-family="Liberation Sans,sans-serif" fill="#1f2125" text-anchor="middle">GIF</text></svg>
</div>
<div id="task" class="a">
<svg style="left:8.00px;top:6.60px" width="8.6" height="8.6" viewBox="0 0 8.6 8.6"><path d="M0 1.2L3.6 0.7V4H0ZM4.2 0.6L8.6 0V4H4.2ZM0 4.6H3.6V7.9L0 7.4ZM4.2 4.6H8.6V8.6L4.2 8Z" fill="#fff"/></svg>
<svg style="left:33.60px;top:6.40px" width="8.4" height="8.8" viewBox="0 0 8.4 8.8"><circle cx="5" cy="3.4" r="2.8" fill="none" stroke="#fff" stroke-width="0.9"/><path d="M3 5.6L0.6 8.2" stroke="#fff" stroke-width="0.9"/></svg>
<svg style="left:58.00px;top:6.00px" width="11.4" height="9.6" viewBox="0 0 11.4 9.6"><path d="M0 1H4.2L5.2 2H11.4V9.6H0Z" fill="#f6c445"/><path d="M0 3.6H11.4V9.6H0Z" fill="#fbdb70"/><path d="M2.6 6.2H8.8V9.6H2.6Z" fill="#3c91e0"/><path d="M4 7.6H7.4V9.6H4Z" fill="#fbdb70"/></svg>
<svg style="left:83.40px;top:5.40px" width="10.8" height="10.8" viewBox="0 0 10.8 10.8"><circle cx="5.4" cy="5.4" r="5.4" fill="#e8453c"/><path d="M5.4 5.4L0.75 2.7A5.4 5.4 0 0 0 4.2 10.66Z" fill="#34a853"/><path d="M5.4 5.4L4.2 10.66A5.4 5.4 0 0 0 10.05 2.7Z" fill="#fbbc05"/><path d="M5.4 5.4L10.05 2.7A5.4 5.4 0 0 0 0.75 2.7Z" fill="#ea4335"/><circle cx="5.4" cy="5.4" r="2.5" fill="#fff"/><circle cx="5.4" cy="5.4" r="1.95" fill="#4285f4"/></svg>
<div class="a" style="left:102.6px;top:0;width:25px;height:21px;background:#2a5d99"></div>
<div class="a" style="left:102.6px;top:20px;width:25px;height:1px;background:#9fc4ee"></div>
<svg style="left:109.40px;top:5.20px" width="11.4" height="11" viewBox="0 0 11.4 11"><circle cx="5.4" cy="5.8" r="5" fill="#8cc63f"/><circle cx="5.4" cy="5.8" r="2.9" fill="none" stroke="#fff" stroke-width="1"/><circle cx="5.4" cy="5.8" r="0.9" fill="#fff"/><path d="M6.6 2.2L9.6 0.6" stroke="#fff" stroke-width="0.9"/><circle cx="9.8" cy="1.4" r="1.3" fill="#e23b3b"/></svg>
<svg style="left:885.40px;top:8.60px" width="6.4" height="3.8" viewBox="0 0 6.4 3.8"><path d="M0.4 3.4L3.2 0.6L6 3.4" fill="none" stroke="#fff" stroke-width="0.8"/></svg>
<svg style="left:898.60px;top:6.40px" width="7.8" height="8" viewBox="0 0 7.8 8"><rect x="2" y="0.4" width="5.4" height="4.6" fill="none" stroke="#fff" stroke-width="0.8"/><path d="M0.4 2V7.6H4.4M0.4 2H2M3.6 5V7.6" fill="none" stroke="#fff" stroke-width="0.8"/></svg>
<svg style="left:910.60px;top:6.60px" width="8" height="7.6" viewBox="0 0 8 7.6"><path d="M0.4 2.6H1.8L3.6 0.8V6.8L1.8 5H0.4Z" fill="#fff"/><path d="M4.8 2.4C5.4 3.2 5.4 4.4 4.8 5.2M6 1.2C7.2 2.6 7.2 5 6 6.4" fill="none" stroke="#fff" stroke-width="0.7"/></svg>
<div class="t" style="left:923px;top:8px;font-size:5.80px;color:#fff;transform:matrix(1,0.0004,0,1,0.60,0.80);transform-origin:0 0;letter-spacing:-0.354px;">ENG</div>
<div class="t" style="left:943px;top:3px;font-size:5.80px;color:#fff;transform:matrix(1,0.0004,0,1,0.20,0.80);transform-origin:0 0;letter-spacing:0.192px;">11:50 AM</div>
<div class="t" style="left:941px;top:12px;font-size:5.80px;color:#fff;transform:matrix(1,0.0004,0,1,0.00,0.80);transform-origin:0 0;letter-spacing:0.125px;">11/15/2022</div>
<svg style="left:978.60px;top:6.60px" width="8.4" height="8" viewBox="0 0 8.4 8"><path d="M0.4 0.4H8V6H3.4L1.8 7.6V6H0.4Z" fill="none" stroke="#fff" stroke-width="0.8" stroke-linejoin="round"/></svg>
</div>
</div>
</body>
</html>
